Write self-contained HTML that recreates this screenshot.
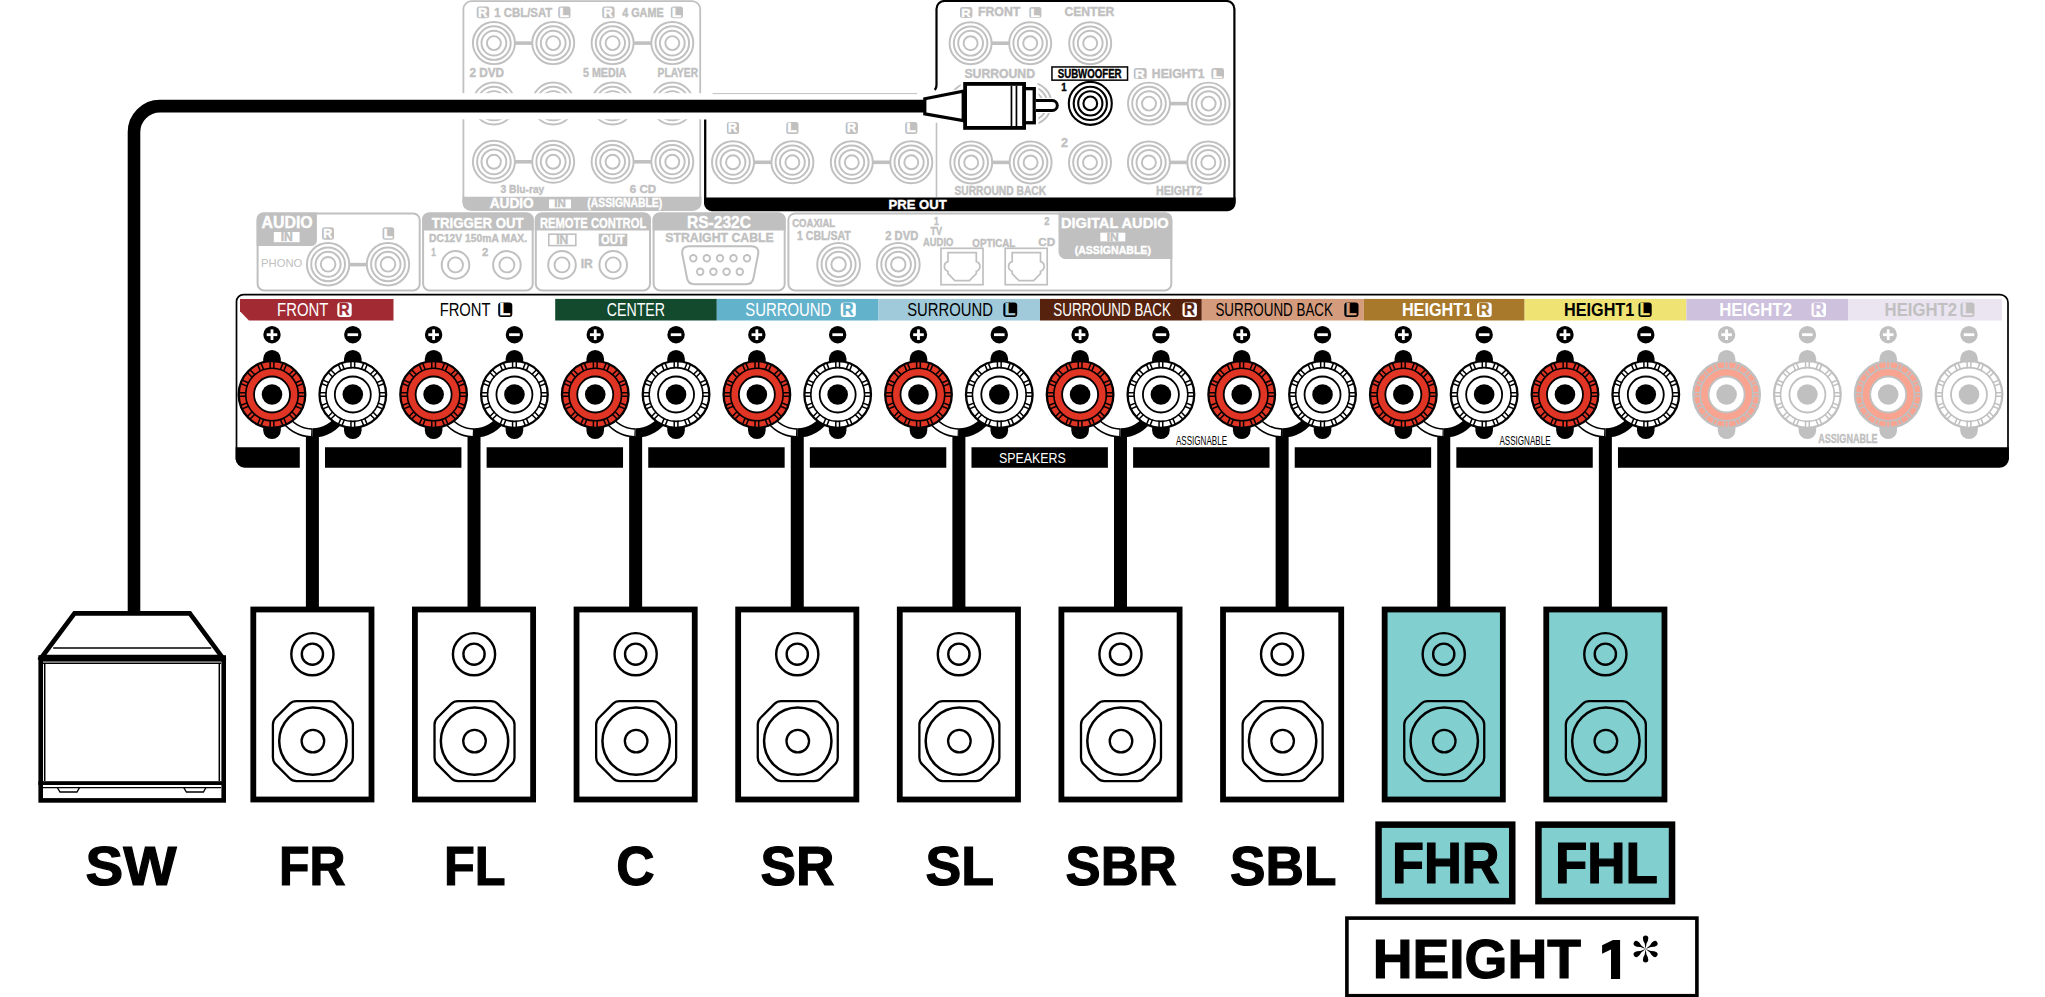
<!DOCTYPE html><html><head><meta charset="utf-8"><style>html,body{margin:0;padding:0;background:#fff;width:2045px;height:997px;overflow:hidden}</style></head><body><svg width="2045" height="997" viewBox="0 0 2045 997" style="display:block">
<g font-family='"Liberation Sans", sans-serif'>
<rect width="2045" height="997" fill="#fff"/>
<rect x="463.4" y="1.2" width="236.8" height="208.6" rx="8" fill="#fff" stroke="#c0c0c0" stroke-width="1.8"/>
<path d="M462.5,196.7 H701.5 V202.3 A8,8 0 0 1 693.5,210.7 H470.5 A8,8 0 0 1 462.5,202.3 Z" fill="#c0c0c0"/>
<text x="489.66" y="208.30" font-size="14.55" font-weight="bold" fill="#fff" stroke="#fff" stroke-width="0.4" textLength="44.12" lengthAdjust="spacingAndGlyphs" >AUDIO</text>
<rect x="549" y="199.4" width="22" height="9" fill="#fff"/>
<text x="554.22" y="207.40" font-size="10.76" font-weight="bold" fill="#c0c0c0" stroke="#c0c0c0" stroke-width="0.4" textLength="11.56" lengthAdjust="spacingAndGlyphs" >IN</text>
<text x="587.28" y="207.30" font-size="12.22" font-weight="bold" fill="#fff" stroke="#fff" stroke-width="0.4" textLength="74.94" lengthAdjust="spacingAndGlyphs" >(ASSIGNABLE)</text>
<circle cx="493.90" cy="43.10" r="21.0" fill="none" stroke="#c0c0c0" stroke-width="1.95"/>
<circle cx="493.90" cy="43.10" r="16.8" fill="none" stroke="#c0c0c0" stroke-width="1.95"/>
<circle cx="493.90" cy="43.10" r="12.4" fill="none" stroke="#c0c0c0" stroke-width="1.95"/>
<circle cx="493.90" cy="43.10" r="7.0" fill="none" stroke="#c0c0c0" stroke-width="1.95"/>
<circle cx="493.90" cy="103.50" r="21.0" fill="none" stroke="#c0c0c0" stroke-width="1.95"/>
<circle cx="493.90" cy="103.50" r="16.8" fill="none" stroke="#c0c0c0" stroke-width="1.95"/>
<circle cx="493.90" cy="103.50" r="12.4" fill="none" stroke="#c0c0c0" stroke-width="1.95"/>
<circle cx="493.90" cy="103.50" r="7.0" fill="none" stroke="#c0c0c0" stroke-width="1.95"/>
<circle cx="493.90" cy="161.80" r="21.0" fill="none" stroke="#c0c0c0" stroke-width="1.95"/>
<circle cx="493.90" cy="161.80" r="16.8" fill="none" stroke="#c0c0c0" stroke-width="1.95"/>
<circle cx="493.90" cy="161.80" r="12.4" fill="none" stroke="#c0c0c0" stroke-width="1.95"/>
<circle cx="493.90" cy="161.80" r="7.0" fill="none" stroke="#c0c0c0" stroke-width="1.95"/>
<circle cx="553.20" cy="43.10" r="21.0" fill="none" stroke="#c0c0c0" stroke-width="1.95"/>
<circle cx="553.20" cy="43.10" r="16.8" fill="none" stroke="#c0c0c0" stroke-width="1.95"/>
<circle cx="553.20" cy="43.10" r="12.4" fill="none" stroke="#c0c0c0" stroke-width="1.95"/>
<circle cx="553.20" cy="43.10" r="7.0" fill="none" stroke="#c0c0c0" stroke-width="1.95"/>
<circle cx="553.20" cy="103.50" r="21.0" fill="none" stroke="#c0c0c0" stroke-width="1.95"/>
<circle cx="553.20" cy="103.50" r="16.8" fill="none" stroke="#c0c0c0" stroke-width="1.95"/>
<circle cx="553.20" cy="103.50" r="12.4" fill="none" stroke="#c0c0c0" stroke-width="1.95"/>
<circle cx="553.20" cy="103.50" r="7.0" fill="none" stroke="#c0c0c0" stroke-width="1.95"/>
<circle cx="553.20" cy="161.80" r="21.0" fill="none" stroke="#c0c0c0" stroke-width="1.95"/>
<circle cx="553.20" cy="161.80" r="16.8" fill="none" stroke="#c0c0c0" stroke-width="1.95"/>
<circle cx="553.20" cy="161.80" r="12.4" fill="none" stroke="#c0c0c0" stroke-width="1.95"/>
<circle cx="553.20" cy="161.80" r="7.0" fill="none" stroke="#c0c0c0" stroke-width="1.95"/>
<circle cx="612.60" cy="43.10" r="21.0" fill="none" stroke="#c0c0c0" stroke-width="1.95"/>
<circle cx="612.60" cy="43.10" r="16.8" fill="none" stroke="#c0c0c0" stroke-width="1.95"/>
<circle cx="612.60" cy="43.10" r="12.4" fill="none" stroke="#c0c0c0" stroke-width="1.95"/>
<circle cx="612.60" cy="43.10" r="7.0" fill="none" stroke="#c0c0c0" stroke-width="1.95"/>
<circle cx="612.60" cy="103.50" r="21.0" fill="none" stroke="#c0c0c0" stroke-width="1.95"/>
<circle cx="612.60" cy="103.50" r="16.8" fill="none" stroke="#c0c0c0" stroke-width="1.95"/>
<circle cx="612.60" cy="103.50" r="12.4" fill="none" stroke="#c0c0c0" stroke-width="1.95"/>
<circle cx="612.60" cy="103.50" r="7.0" fill="none" stroke="#c0c0c0" stroke-width="1.95"/>
<circle cx="612.60" cy="161.80" r="21.0" fill="none" stroke="#c0c0c0" stroke-width="1.95"/>
<circle cx="612.60" cy="161.80" r="16.8" fill="none" stroke="#c0c0c0" stroke-width="1.95"/>
<circle cx="612.60" cy="161.80" r="12.4" fill="none" stroke="#c0c0c0" stroke-width="1.95"/>
<circle cx="612.60" cy="161.80" r="7.0" fill="none" stroke="#c0c0c0" stroke-width="1.95"/>
<circle cx="672.30" cy="43.10" r="21.0" fill="none" stroke="#c0c0c0" stroke-width="1.95"/>
<circle cx="672.30" cy="43.10" r="16.8" fill="none" stroke="#c0c0c0" stroke-width="1.95"/>
<circle cx="672.30" cy="43.10" r="12.4" fill="none" stroke="#c0c0c0" stroke-width="1.95"/>
<circle cx="672.30" cy="43.10" r="7.0" fill="none" stroke="#c0c0c0" stroke-width="1.95"/>
<circle cx="672.30" cy="103.50" r="21.0" fill="none" stroke="#c0c0c0" stroke-width="1.95"/>
<circle cx="672.30" cy="103.50" r="16.8" fill="none" stroke="#c0c0c0" stroke-width="1.95"/>
<circle cx="672.30" cy="103.50" r="12.4" fill="none" stroke="#c0c0c0" stroke-width="1.95"/>
<circle cx="672.30" cy="103.50" r="7.0" fill="none" stroke="#c0c0c0" stroke-width="1.95"/>
<circle cx="672.30" cy="161.80" r="21.0" fill="none" stroke="#c0c0c0" stroke-width="1.95"/>
<circle cx="672.30" cy="161.80" r="16.8" fill="none" stroke="#c0c0c0" stroke-width="1.95"/>
<circle cx="672.30" cy="161.80" r="12.4" fill="none" stroke="#c0c0c0" stroke-width="1.95"/>
<circle cx="672.30" cy="161.80" r="7.0" fill="none" stroke="#c0c0c0" stroke-width="1.95"/>
<rect x="514.90" y="41.30" width="17.30" height="3.6" fill="#c0c0c0"/>
<rect x="633.60" y="41.30" width="17.70" height="3.6" fill="#c0c0c0"/>
<rect x="514.90" y="101.70" width="17.30" height="3.6" fill="#c0c0c0"/>
<rect x="633.60" y="101.70" width="17.70" height="3.6" fill="#c0c0c0"/>
<rect x="514.90" y="160.00" width="17.30" height="3.6" fill="#c0c0c0"/>
<rect x="633.60" y="160.00" width="17.70" height="3.6" fill="#c0c0c0"/>
<rect x="476.70" y="6.50" width="12.50" height="11.80" rx="2.5" fill="#c0c0c0"/>
<text x="477.94" y="16.77" font-size="12.70" font-weight="bold" fill="#fff" stroke="#fff" stroke-width="0.4" textLength="9.42" lengthAdjust="spacingAndGlyphs" >R</text>
<text x="494.29" y="17.20" font-size="12.07" font-weight="bold" fill="#c0c0c0" stroke="#c0c0c0" stroke-width="0.4" textLength="58.03" lengthAdjust="spacingAndGlyphs" >1 CBL/SAT</text>
<rect x="558.20" y="6.50" width="12.30" height="11.80" rx="2.5" fill="#c0c0c0"/>
<text x="559.22" y="16.77" font-size="12.70" font-weight="bold" fill="#fff" stroke="#fff" stroke-width="0.4" textLength="9.68" lengthAdjust="spacingAndGlyphs" >L</text>
<rect x="602.20" y="6.50" width="12.40" height="11.80" rx="2.5" fill="#c0c0c0"/>
<text x="603.43" y="16.77" font-size="12.70" font-weight="bold" fill="#fff" stroke="#fff" stroke-width="0.4" textLength="9.34" lengthAdjust="spacingAndGlyphs" >R</text>
<text x="622.14" y="17.20" font-size="12.07" font-weight="bold" fill="#c0c0c0" stroke="#c0c0c0" stroke-width="0.4" textLength="41.59" lengthAdjust="spacingAndGlyphs" >4 GAME</text>
<rect x="670.80" y="6.50" width="12.20" height="11.80" rx="2.5" fill="#c0c0c0"/>
<text x="671.81" y="16.77" font-size="12.70" font-weight="bold" fill="#fff" stroke="#fff" stroke-width="0.4" textLength="9.60" lengthAdjust="spacingAndGlyphs" >L</text>
<text x="469.39" y="77.20" font-size="11.93" font-weight="bold" fill="#c0c0c0" stroke="#c0c0c0" stroke-width="0.4" textLength="34.72" lengthAdjust="spacingAndGlyphs" >2 DVD</text>
<text x="583.08" y="77.20" font-size="11.93" font-weight="bold" fill="#c0c0c0" stroke="#c0c0c0" stroke-width="0.4" textLength="43.20" lengthAdjust="spacingAndGlyphs" >5 MEDIA</text>
<text x="657.61" y="77.20" font-size="11.93" font-weight="bold" fill="#c0c0c0" stroke="#c0c0c0" stroke-width="0.4" textLength="40.41" lengthAdjust="spacingAndGlyphs" >PLAYER</text>
<text x="500.57" y="193.40" font-size="11.64" font-weight="bold" fill="#c0c0c0" stroke="#c0c0c0" stroke-width="0.4" textLength="43.70" lengthAdjust="spacingAndGlyphs" >3 Blu-ray</text>
<text x="629.76" y="193.40" font-size="11.64" font-weight="bold" fill="#c0c0c0" stroke="#c0c0c0" stroke-width="0.4" textLength="26.44" lengthAdjust="spacingAndGlyphs" >6 CD</text>
<circle cx="733.00" cy="162.30" r="21.0" fill="none" stroke="#c0c0c0" stroke-width="1.95"/>
<circle cx="733.00" cy="162.30" r="16.8" fill="none" stroke="#c0c0c0" stroke-width="1.95"/>
<circle cx="733.00" cy="162.30" r="12.4" fill="none" stroke="#c0c0c0" stroke-width="1.95"/>
<circle cx="733.00" cy="162.30" r="7.0" fill="none" stroke="#c0c0c0" stroke-width="1.95"/>
<rect x="726.90" y="122.00" width="12.20" height="11.90" rx="2.5" fill="#c0c0c0"/>
<text x="728.11" y="132.35" font-size="12.81" font-weight="bold" fill="#fff" stroke="#fff" stroke-width="0.4" textLength="9.19" lengthAdjust="spacingAndGlyphs" >R</text>
<circle cx="792.40" cy="162.30" r="21.0" fill="none" stroke="#c0c0c0" stroke-width="1.95"/>
<circle cx="792.40" cy="162.30" r="16.8" fill="none" stroke="#c0c0c0" stroke-width="1.95"/>
<circle cx="792.40" cy="162.30" r="12.4" fill="none" stroke="#c0c0c0" stroke-width="1.95"/>
<circle cx="792.40" cy="162.30" r="7.0" fill="none" stroke="#c0c0c0" stroke-width="1.95"/>
<rect x="786.30" y="122.00" width="12.20" height="11.90" rx="2.5" fill="#c0c0c0"/>
<text x="787.31" y="132.35" font-size="12.81" font-weight="bold" fill="#fff" stroke="#fff" stroke-width="0.4" textLength="9.60" lengthAdjust="spacingAndGlyphs" >L</text>
<circle cx="851.80" cy="162.30" r="21.0" fill="none" stroke="#c0c0c0" stroke-width="1.95"/>
<circle cx="851.80" cy="162.30" r="16.8" fill="none" stroke="#c0c0c0" stroke-width="1.95"/>
<circle cx="851.80" cy="162.30" r="12.4" fill="none" stroke="#c0c0c0" stroke-width="1.95"/>
<circle cx="851.80" cy="162.30" r="7.0" fill="none" stroke="#c0c0c0" stroke-width="1.95"/>
<rect x="845.70" y="122.00" width="12.20" height="11.90" rx="2.5" fill="#c0c0c0"/>
<text x="846.91" y="132.35" font-size="12.81" font-weight="bold" fill="#fff" stroke="#fff" stroke-width="0.4" textLength="9.19" lengthAdjust="spacingAndGlyphs" >R</text>
<circle cx="911.30" cy="162.30" r="21.0" fill="none" stroke="#c0c0c0" stroke-width="1.95"/>
<circle cx="911.30" cy="162.30" r="16.8" fill="none" stroke="#c0c0c0" stroke-width="1.95"/>
<circle cx="911.30" cy="162.30" r="12.4" fill="none" stroke="#c0c0c0" stroke-width="1.95"/>
<circle cx="911.30" cy="162.30" r="7.0" fill="none" stroke="#c0c0c0" stroke-width="1.95"/>
<rect x="905.20" y="122.00" width="12.20" height="11.90" rx="2.5" fill="#c0c0c0"/>
<text x="906.21" y="132.35" font-size="12.81" font-weight="bold" fill="#fff" stroke="#fff" stroke-width="0.4" textLength="9.60" lengthAdjust="spacingAndGlyphs" >L</text>
<rect x="754.00" y="160.50" width="17.40" height="3.6" fill="#c0c0c0"/>
<rect x="872.80" y="160.50" width="17.50" height="3.6" fill="#c0c0c0"/>
<line x1="936.5" y1="122.7" x2="936.5" y2="197" stroke="#c0c0c0" stroke-width="1.6"/>
<circle cx="970.60" cy="43.20" r="21.0" fill="none" stroke="#c0c0c0" stroke-width="1.95"/>
<circle cx="970.60" cy="43.20" r="16.8" fill="none" stroke="#c0c0c0" stroke-width="1.95"/>
<circle cx="970.60" cy="43.20" r="12.4" fill="none" stroke="#c0c0c0" stroke-width="1.95"/>
<circle cx="970.60" cy="43.20" r="7.0" fill="none" stroke="#c0c0c0" stroke-width="1.95"/>
<circle cx="1030.20" cy="43.20" r="21.0" fill="none" stroke="#c0c0c0" stroke-width="1.95"/>
<circle cx="1030.20" cy="43.20" r="16.8" fill="none" stroke="#c0c0c0" stroke-width="1.95"/>
<circle cx="1030.20" cy="43.20" r="12.4" fill="none" stroke="#c0c0c0" stroke-width="1.95"/>
<circle cx="1030.20" cy="43.20" r="7.0" fill="none" stroke="#c0c0c0" stroke-width="1.95"/>
<circle cx="1090.20" cy="43.20" r="21.0" fill="none" stroke="#c0c0c0" stroke-width="1.95"/>
<circle cx="1090.20" cy="43.20" r="16.8" fill="none" stroke="#c0c0c0" stroke-width="1.95"/>
<circle cx="1090.20" cy="43.20" r="12.4" fill="none" stroke="#c0c0c0" stroke-width="1.95"/>
<circle cx="1090.20" cy="43.20" r="7.0" fill="none" stroke="#c0c0c0" stroke-width="1.95"/>
<rect x="991.60" y="41.40" width="17.60" height="3.6" fill="#c0c0c0"/>
<circle cx="970.60" cy="103.60" r="21.0" fill="none" stroke="#c0c0c0" stroke-width="1.95"/>
<circle cx="970.60" cy="103.60" r="16.8" fill="none" stroke="#c0c0c0" stroke-width="1.95"/>
<circle cx="970.60" cy="103.60" r="12.4" fill="none" stroke="#c0c0c0" stroke-width="1.95"/>
<circle cx="970.60" cy="103.60" r="7.0" fill="none" stroke="#c0c0c0" stroke-width="1.95"/>
<circle cx="1030.40" cy="103.60" r="21.0" fill="none" stroke="#c0c0c0" stroke-width="1.95"/>
<circle cx="1030.40" cy="103.60" r="16.8" fill="none" stroke="#c0c0c0" stroke-width="1.95"/>
<circle cx="1030.40" cy="103.60" r="12.4" fill="none" stroke="#c0c0c0" stroke-width="1.95"/>
<circle cx="1030.40" cy="103.60" r="7.0" fill="none" stroke="#c0c0c0" stroke-width="1.95"/>
<circle cx="1149.00" cy="103.60" r="21.0" fill="none" stroke="#c0c0c0" stroke-width="1.95"/>
<circle cx="1149.00" cy="103.60" r="16.8" fill="none" stroke="#c0c0c0" stroke-width="1.95"/>
<circle cx="1149.00" cy="103.60" r="12.4" fill="none" stroke="#c0c0c0" stroke-width="1.95"/>
<circle cx="1149.00" cy="103.60" r="7.0" fill="none" stroke="#c0c0c0" stroke-width="1.95"/>
<circle cx="1208.60" cy="103.60" r="21.0" fill="none" stroke="#c0c0c0" stroke-width="1.95"/>
<circle cx="1208.60" cy="103.60" r="16.8" fill="none" stroke="#c0c0c0" stroke-width="1.95"/>
<circle cx="1208.60" cy="103.60" r="12.4" fill="none" stroke="#c0c0c0" stroke-width="1.95"/>
<circle cx="1208.60" cy="103.60" r="7.0" fill="none" stroke="#c0c0c0" stroke-width="1.95"/>
<rect x="991.60" y="101.80" width="17.80" height="3.6" fill="#c0c0c0"/>
<rect x="1170.00" y="101.80" width="17.60" height="3.6" fill="#c0c0c0"/>
<circle cx="971.20" cy="162.40" r="21.0" fill="none" stroke="#c0c0c0" stroke-width="1.95"/>
<circle cx="971.20" cy="162.40" r="16.8" fill="none" stroke="#c0c0c0" stroke-width="1.95"/>
<circle cx="971.20" cy="162.40" r="12.4" fill="none" stroke="#c0c0c0" stroke-width="1.95"/>
<circle cx="971.20" cy="162.40" r="7.0" fill="none" stroke="#c0c0c0" stroke-width="1.95"/>
<circle cx="1030.60" cy="162.40" r="21.0" fill="none" stroke="#c0c0c0" stroke-width="1.95"/>
<circle cx="1030.60" cy="162.40" r="16.8" fill="none" stroke="#c0c0c0" stroke-width="1.95"/>
<circle cx="1030.60" cy="162.40" r="12.4" fill="none" stroke="#c0c0c0" stroke-width="1.95"/>
<circle cx="1030.60" cy="162.40" r="7.0" fill="none" stroke="#c0c0c0" stroke-width="1.95"/>
<circle cx="1090.00" cy="162.40" r="21.0" fill="none" stroke="#c0c0c0" stroke-width="1.95"/>
<circle cx="1090.00" cy="162.40" r="16.8" fill="none" stroke="#c0c0c0" stroke-width="1.95"/>
<circle cx="1090.00" cy="162.40" r="12.4" fill="none" stroke="#c0c0c0" stroke-width="1.95"/>
<circle cx="1090.00" cy="162.40" r="7.0" fill="none" stroke="#c0c0c0" stroke-width="1.95"/>
<circle cx="1148.90" cy="162.40" r="21.0" fill="none" stroke="#c0c0c0" stroke-width="1.95"/>
<circle cx="1148.90" cy="162.40" r="16.8" fill="none" stroke="#c0c0c0" stroke-width="1.95"/>
<circle cx="1148.90" cy="162.40" r="12.4" fill="none" stroke="#c0c0c0" stroke-width="1.95"/>
<circle cx="1148.90" cy="162.40" r="7.0" fill="none" stroke="#c0c0c0" stroke-width="1.95"/>
<circle cx="1208.30" cy="162.40" r="21.0" fill="none" stroke="#c0c0c0" stroke-width="1.95"/>
<circle cx="1208.30" cy="162.40" r="16.8" fill="none" stroke="#c0c0c0" stroke-width="1.95"/>
<circle cx="1208.30" cy="162.40" r="12.4" fill="none" stroke="#c0c0c0" stroke-width="1.95"/>
<circle cx="1208.30" cy="162.40" r="7.0" fill="none" stroke="#c0c0c0" stroke-width="1.95"/>
<rect x="992.20" y="160.60" width="17.40" height="3.6" fill="#c0c0c0"/>
<rect x="1169.90" y="160.60" width="17.40" height="3.6" fill="#c0c0c0"/>
<rect x="960.00" y="7.00" width="12.40" height="11.00" rx="2.5" fill="#c0c0c0"/>
<text x="961.23" y="16.57" font-size="11.84" font-weight="bold" fill="#fff" stroke="#fff" stroke-width="0.4" textLength="9.34" lengthAdjust="spacingAndGlyphs" >R</text>
<text x="977.97" y="15.90" font-size="12.07" font-weight="bold" fill="#c0c0c0" stroke="#c0c0c0" stroke-width="0.4" textLength="42.37" lengthAdjust="spacingAndGlyphs" >FRONT</text>
<rect x="1029.30" y="7.00" width="12.10" height="11.00" rx="2.5" fill="#c0c0c0"/>
<text x="1030.31" y="16.57" font-size="11.84" font-weight="bold" fill="#fff" stroke="#fff" stroke-width="0.4" textLength="9.52" lengthAdjust="spacingAndGlyphs" >L</text>
<text x="1064.41" y="15.90" font-size="12.07" font-weight="bold" fill="#c0c0c0" stroke="#c0c0c0" stroke-width="0.4" textLength="49.95" lengthAdjust="spacingAndGlyphs" >CENTER</text>
<text x="964.43" y="77.60" font-size="11.93" font-weight="bold" fill="#c0c0c0" stroke="#c0c0c0" stroke-width="0.4" textLength="70.59" lengthAdjust="spacingAndGlyphs" >SURROUND</text>
<rect x="1133.80" y="68.00" width="12.90" height="11.00" rx="2.5" fill="#c0c0c0"/>
<text x="1135.08" y="77.57" font-size="11.84" font-weight="bold" fill="#fff" stroke="#fff" stroke-width="0.4" textLength="9.72" lengthAdjust="spacingAndGlyphs" >R</text>
<text x="1151.88" y="77.60" font-size="11.93" font-weight="bold" fill="#c0c0c0" stroke="#c0c0c0" stroke-width="0.4" textLength="52.67" lengthAdjust="spacingAndGlyphs" >HEIGHT1</text>
<rect x="1211.40" y="68.00" width="12.60" height="11.00" rx="2.5" fill="#c0c0c0"/>
<text x="1212.45" y="77.57" font-size="11.84" font-weight="bold" fill="#fff" stroke="#fff" stroke-width="0.4" textLength="9.91" lengthAdjust="spacingAndGlyphs" >L</text>
<text x="1061.06" y="147.30" font-size="11.93" font-weight="bold" fill="#c0c0c0" stroke="#c0c0c0" stroke-width="0.4" textLength="6.95" lengthAdjust="spacingAndGlyphs" >2</text>
<text x="954.49" y="194.90" font-size="11.93" font-weight="bold" fill="#c0c0c0" stroke="#c0c0c0" stroke-width="0.4" textLength="91.61" lengthAdjust="spacingAndGlyphs" >SURROUND BACK</text>
<text x="1156.08" y="194.90" font-size="11.93" font-weight="bold" fill="#c0c0c0" stroke="#c0c0c0" stroke-width="0.4" textLength="46.06" lengthAdjust="spacingAndGlyphs" >HEIGHT2</text>
<path d="M934.6,89.9 Q936.5,88.5 936.5,84.5 V9 A8,8 0 0 1 944.5,1 H1226.4 A8,8 0 0 1 1234.4,9 V203" fill="none" stroke="#000" stroke-width="2.2"/>
<path d="M705.2,119.3 V203" fill="none" stroke="#000" stroke-width="2.3"/>
<path d="M704,197.6 H1235.6 V203.2 A8,8 0 0 1 1227.6,211.2 H712 A8,8 0 0 1 704,203.2 Z" fill="#000"/>
<text x="888.62" y="208.90" font-size="12.95" font-weight="bold" fill="#fff" stroke="#fff" stroke-width="0.4" textLength="58.01" lengthAdjust="spacingAndGlyphs" >PRE OUT</text>
<rect x="257.60" y="213.50" width="162.10" height="76.90" rx="6.5" fill="#fff" stroke="#c0c0c0" stroke-width="2"/>
<path d="M256.6,246 V220 A6.5,6.5 0 0 1 263.1,212.5 H316.9 V240.5 A5.5,5.5 0 0 1 311.4,246 Z" fill="#c0c0c0"/>
<text x="261.50" y="227.80" font-size="16.00" font-weight="bold" fill="#fff" stroke="#fff" stroke-width="0.4" textLength="51.17" lengthAdjust="spacingAndGlyphs" >AUDIO</text>
<rect x="273.8" y="232" width="25.8" height="10.2" fill="#fff"/>
<text x="280.68" y="241.20" font-size="11.93" font-weight="bold" fill="#c0c0c0" stroke="#c0c0c0" stroke-width="0.4" textLength="12.14" lengthAdjust="spacingAndGlyphs" >IN</text>
<rect x="322.00" y="227.20" width="12.00" height="12.50" rx="2.5" fill="#c0c0c0"/>
<text x="323.19" y="238.07" font-size="13.45" font-weight="bold" fill="#fff" stroke="#fff" stroke-width="0.4" textLength="9.04" lengthAdjust="spacingAndGlyphs" >R</text>
<rect x="382.50" y="227.20" width="11.70" height="12.50" rx="2.5" fill="#c0c0c0"/>
<text x="383.47" y="238.07" font-size="13.45" font-weight="bold" fill="#fff" stroke="#fff" stroke-width="0.4" textLength="9.20" lengthAdjust="spacingAndGlyphs" >L</text>
<text x="260.97" y="266.80" font-size="11.35" font-weight="normal" fill="#c0c0c0" textLength="41.36" lengthAdjust="spacingAndGlyphs" >PHONO</text>
<circle cx="328.10" cy="264.30" r="21.2" fill="none" stroke="#c0c0c0" stroke-width="1.95"/>
<circle cx="328.10" cy="264.30" r="16.9" fill="none" stroke="#c0c0c0" stroke-width="1.95"/>
<circle cx="328.10" cy="264.30" r="12.5" fill="none" stroke="#c0c0c0" stroke-width="1.95"/>
<circle cx="328.10" cy="264.30" r="7.3" fill="none" stroke="#c0c0c0" stroke-width="1.95"/>
<circle cx="388.00" cy="264.30" r="21.2" fill="none" stroke="#c0c0c0" stroke-width="1.95"/>
<circle cx="388.00" cy="264.30" r="16.9" fill="none" stroke="#c0c0c0" stroke-width="1.95"/>
<circle cx="388.00" cy="264.30" r="12.5" fill="none" stroke="#c0c0c0" stroke-width="1.95"/>
<circle cx="388.00" cy="264.30" r="7.3" fill="none" stroke="#c0c0c0" stroke-width="1.95"/>
<rect x="349.10" y="262.80" width="17.90" height="3.6" fill="#c0c0c0"/>
<rect x="423.10" y="213.50" width="109.60" height="76.90" rx="6.5" fill="#fff" stroke="#c0c0c0" stroke-width="2"/>
<path d="M422.1,230.5 V219.0 A6.5,6.5 0 0 1 428.6,212.5 H527.2 A6.5,6.5 0 0 1 533.7,219.0 V230.5 Z" fill="#c0c0c0"/>
<text x="431.87" y="227.80" font-size="15.56" font-weight="bold" fill="#fff" stroke="#fff" stroke-width="0.4" textLength="91.69" lengthAdjust="spacingAndGlyphs" >TRIGGER OUT</text>
<text x="429.00" y="242.30" font-size="11.35" font-weight="bold" fill="#c0c0c0" stroke="#c0c0c0" stroke-width="0.4" textLength="98.09" lengthAdjust="spacingAndGlyphs" >DC12V 150mA MAX.</text>
<text x="431.19" y="255.50" font-size="11.35" font-weight="bold" fill="#c0c0c0" stroke="#c0c0c0" stroke-width="0.4" textLength="4.55" lengthAdjust="spacingAndGlyphs" >1</text>
<text x="482.10" y="255.50" font-size="11.35" font-weight="bold" fill="#c0c0c0" stroke="#c0c0c0" stroke-width="0.4" textLength="6.37" lengthAdjust="spacingAndGlyphs" >2</text>
<circle cx="455.5" cy="264.9" r="13.8" fill="none" stroke="#c0c0c0" stroke-width="2"/>
<circle cx="455.5" cy="264.9" r="7.5" fill="none" stroke="#c0c0c0" stroke-width="1.9"/>
<circle cx="506.9" cy="264.9" r="13.8" fill="none" stroke="#c0c0c0" stroke-width="2"/>
<circle cx="506.9" cy="264.9" r="7.5" fill="none" stroke="#c0c0c0" stroke-width="1.9"/>
<rect x="535.80" y="213.50" width="114.20" height="76.90" rx="6.5" fill="#fff" stroke="#c0c0c0" stroke-width="2"/>
<path d="M534.8,230.5 V219.0 A6.5,6.5 0 0 1 541.3,212.5 H644.5 A6.5,6.5 0 0 1 651.0,219.0 V230.5 Z" fill="#c0c0c0"/>
<text x="539.94" y="227.80" font-size="15.56" font-weight="bold" fill="#fff" stroke="#fff" stroke-width="0.4" textLength="106.29" lengthAdjust="spacingAndGlyphs" >REMOTE CONTROL</text>
<rect x="548.8" y="234.2" width="27" height="11.4" fill="#fff" stroke="#c0c0c0" stroke-width="1.6"/>
<text x="556.18" y="243.80" font-size="12.51" font-weight="bold" fill="#c0c0c0" stroke="#c0c0c0" stroke-width="0.4" textLength="12.14" lengthAdjust="spacingAndGlyphs" >IN</text>
<rect x="598.7" y="233.6" width="28.6" height="12.6" fill="#c0c0c0"/>
<text x="601.05" y="243.80" font-size="12.51" font-weight="bold" fill="#fff" stroke="#fff" stroke-width="0.4" textLength="23.57" lengthAdjust="spacingAndGlyphs" >OUT</text>
<circle cx="562.0" cy="264.9" r="13.8" fill="none" stroke="#c0c0c0" stroke-width="2"/>
<circle cx="562.0" cy="264.9" r="7.5" fill="none" stroke="#c0c0c0" stroke-width="1.9"/>
<circle cx="613.2" cy="264.9" r="13.8" fill="none" stroke="#c0c0c0" stroke-width="2"/>
<circle cx="613.2" cy="264.9" r="7.5" fill="none" stroke="#c0c0c0" stroke-width="1.9"/>
<text x="580.68" y="268.00" font-size="13.09" font-weight="bold" fill="#c0c0c0" stroke="#c0c0c0" stroke-width="0.4" textLength="12.09" lengthAdjust="spacingAndGlyphs" >IR</text>
<rect x="653.60" y="213.50" width="131.10" height="76.90" rx="6.5" fill="#fff" stroke="#c0c0c0" stroke-width="2"/>
<path d="M652.6,230.6 V219.0 A6.5,6.5 0 0 1 659.1,212.5 H779.2 A6.5,6.5 0 0 1 785.7,219.0 V230.6 Z" fill="#c0c0c0"/>
<text x="686.95" y="227.50" font-size="16.58" font-weight="bold" fill="#fff" stroke="#fff" stroke-width="0.4" textLength="63.98" lengthAdjust="spacingAndGlyphs" >RS-232C</text>
<text x="665.23" y="241.60" font-size="13.09" font-weight="bold" fill="#c0c0c0" stroke="#c0c0c0" stroke-width="0.4" textLength="108.54" lengthAdjust="spacingAndGlyphs" >STRAIGHT CABLE</text>
<path d="M689,246.2 H751.5 Q758.8,246.2 758.3,253.5 L753.5,278 Q752.5,284.2 746,284.2 H694.5 Q688,284.2 687,278 L682.2,253.5 Q681.7,246.2 689,246.2 Z" fill="none" stroke="#c0c0c0" stroke-width="2"/>
<circle cx="693.3" cy="258.3" r="3.3" fill="none" stroke="#c0c0c0" stroke-width="1.8"/>
<circle cx="706.8" cy="258.3" r="3.3" fill="none" stroke="#c0c0c0" stroke-width="1.8"/>
<circle cx="720.0" cy="258.3" r="3.3" fill="none" stroke="#c0c0c0" stroke-width="1.8"/>
<circle cx="733.5" cy="258.3" r="3.3" fill="none" stroke="#c0c0c0" stroke-width="1.8"/>
<circle cx="747.0" cy="258.3" r="3.3" fill="none" stroke="#c0c0c0" stroke-width="1.8"/>
<circle cx="700.2" cy="271.8" r="3.3" fill="none" stroke="#c0c0c0" stroke-width="1.8"/>
<circle cx="713.4" cy="271.8" r="3.3" fill="none" stroke="#c0c0c0" stroke-width="1.8"/>
<circle cx="726.6" cy="271.8" r="3.3" fill="none" stroke="#c0c0c0" stroke-width="1.8"/>
<circle cx="739.8" cy="271.8" r="3.3" fill="none" stroke="#c0c0c0" stroke-width="1.8"/>
<rect x="788.40" y="213.50" width="382.90" height="76.90" rx="6.5" fill="#fff" stroke="#c0c0c0" stroke-width="2"/>
<path d="M1058.5,212.5 H1165.3 A6.5,6.5 0 0 1 1172.3,219 V259.1 H1066 A7.5,7.5 0 0 1 1058.5,251.6 Z" fill="#c0c0c0"/>
<text x="1061.01" y="227.60" font-size="15.42" font-weight="bold" fill="#fff" stroke="#fff" stroke-width="0.4" textLength="107.61" lengthAdjust="spacingAndGlyphs" >DIGITAL AUDIO</text>
<rect x="1100.3" y="232.7" width="25" height="8.7" fill="#fff"/>
<text x="1106.68" y="240.60" font-size="10.18" font-weight="bold" fill="#c0c0c0" stroke="#c0c0c0" stroke-width="0.4" textLength="12.14" lengthAdjust="spacingAndGlyphs" >IN</text>
<text x="1074.67" y="253.60" font-size="11.35" font-weight="bold" fill="#fff" stroke="#fff" stroke-width="0.4" textLength="76.25" lengthAdjust="spacingAndGlyphs" >(ASSIGNABLE)</text>
<text x="792.22" y="226.70" font-size="10.76" font-weight="bold" fill="#c0c0c0" stroke="#c0c0c0" stroke-width="0.4" textLength="42.97" lengthAdjust="spacingAndGlyphs" >COAXIAL</text>
<text x="796.94" y="240.00" font-size="12.07" font-weight="bold" fill="#c0c0c0" stroke="#c0c0c0" stroke-width="0.4" textLength="53.87" lengthAdjust="spacingAndGlyphs" >1 CBL/SAT</text>
<text x="885.21" y="240.00" font-size="12.07" font-weight="bold" fill="#c0c0c0" stroke="#c0c0c0" stroke-width="0.4" textLength="33.07" lengthAdjust="spacingAndGlyphs" >2 DVD</text>
<circle cx="838.60" cy="264.40" r="21.4" fill="none" stroke="#c0c0c0" stroke-width="1.95"/>
<circle cx="838.60" cy="264.40" r="17.0" fill="none" stroke="#c0c0c0" stroke-width="1.95"/>
<circle cx="838.60" cy="264.40" r="12.6" fill="none" stroke="#c0c0c0" stroke-width="1.95"/>
<circle cx="838.60" cy="264.40" r="7.2" fill="none" stroke="#c0c0c0" stroke-width="1.95"/>
<circle cx="898.30" cy="264.40" r="21.4" fill="none" stroke="#c0c0c0" stroke-width="1.95"/>
<circle cx="898.30" cy="264.40" r="17.0" fill="none" stroke="#c0c0c0" stroke-width="1.95"/>
<circle cx="898.30" cy="264.40" r="12.6" fill="none" stroke="#c0c0c0" stroke-width="1.95"/>
<circle cx="898.30" cy="264.40" r="7.2" fill="none" stroke="#c0c0c0" stroke-width="1.95"/>
<text x="933.96" y="225.30" font-size="11.35" font-weight="bold" fill="#c0c0c0" stroke="#c0c0c0" stroke-width="0.4" textLength="4.78" lengthAdjust="spacingAndGlyphs" >1</text>
<text x="930.41" y="234.80" font-size="11.05" font-weight="bold" fill="#c0c0c0" stroke="#c0c0c0" stroke-width="0.4" textLength="11.66" lengthAdjust="spacingAndGlyphs" >TV</text>
<text x="923.07" y="246.00" font-size="11.35" font-weight="bold" fill="#c0c0c0" stroke="#c0c0c0" stroke-width="0.4" textLength="30.23" lengthAdjust="spacingAndGlyphs" >AUDIO</text>
<text x="972.31" y="246.50" font-size="11.35" font-weight="bold" fill="#c0c0c0" stroke="#c0c0c0" stroke-width="0.4" textLength="43.00" lengthAdjust="spacingAndGlyphs" >OPTICAL</text>
<text x="1044.17" y="225.30" font-size="11.35" font-weight="bold" fill="#c0c0c0" stroke="#c0c0c0" stroke-width="0.4" textLength="5.21" lengthAdjust="spacingAndGlyphs" >2</text>
<text x="1038.23" y="246.00" font-size="11.35" font-weight="bold" fill="#c0c0c0" stroke="#c0c0c0" stroke-width="0.4" textLength="16.86" lengthAdjust="spacingAndGlyphs" >CD</text>
<rect x="941.00" y="248.3" width="42.0" height="36.4" fill="none" stroke="#c0c0c0" stroke-width="1.7"/>
<path d="M948.00,252.6 H976.30 V261.6 A5,5 0 0 1 976.30,271.2 V273.7 L969.40,280.7 H954.80 L948.00,273.7 V271.2 A5,5 0 0 1 948.00,261.6 Z" fill="none" stroke="#c0c0c0" stroke-width="1.7" stroke-linejoin="miter"/>
<rect x="1005.20" y="248.3" width="42.0" height="36.4" fill="none" stroke="#c0c0c0" stroke-width="1.7"/>
<path d="M1012.20,252.6 H1040.50 V261.6 A5,5 0 0 1 1040.50,271.2 V273.7 L1033.60,280.7 H1019.00 L1012.20,273.7 V271.2 A5,5 0 0 1 1012.20,261.6 Z" fill="none" stroke="#c0c0c0" stroke-width="1.7" stroke-linejoin="miter"/>
<rect x="452" y="93.2" width="474" height="26.1" fill="#fff"/>
<line x1="712.6" y1="93.6" x2="917.1" y2="93.6" stroke="#c0c0c0" stroke-width="1"/>
<path d="M925,98 L963.2,90.9 V83.9 H1035 V88 H1036 V100.5 H1052.3 A5,5 0 0 1 1052.3,110.5 H1036 V124 H1026 V127.9 H963.2 V120.9 L925,114.6 Z" fill="#fff" stroke="#fff" stroke-width="5" stroke-linejoin="round"/>
<path d="M134,612 V132 A26,26 0 0 1 160,106.1 H926" fill="none" stroke="#000" stroke-width="12.6"/>
<path d="M924.8,98.8 L963.2,91.3 V120.5 L924.8,113.8 Z" fill="#fff" stroke="#000" stroke-width="3.2" stroke-linejoin="miter"/>
<rect x="965.1" y="83.9" width="59" height="44" fill="#fff" stroke="#000" stroke-width="3.8"/>
<rect x="1010.6" y="85.8" width="1.7" height="42" fill="#000"/>
<rect x="1015.6" y="85.8" width="1.7" height="42" fill="#000"/>
<rect x="1024.3" y="88.65" width="9.95" height="34.1" fill="#fff" stroke="#000" stroke-width="3.3"/>
<path d="M1035.9,100.5 H1052.3 A5,5 0 0 1 1052.3,110.5 H1035.9" fill="#fff" stroke="#000" stroke-width="3"/>
<circle cx="1090.3" cy="103.4" r="21.5" fill="none" stroke="#000" stroke-width="2.1"/>
<circle cx="1090.3" cy="103.4" r="16.6" fill="none" stroke="#000" stroke-width="2.1"/>
<circle cx="1090.3" cy="103.4" r="12.1" fill="none" stroke="#000" stroke-width="2.1"/>
<circle cx="1090.3" cy="103.4" r="6.85" fill="none" stroke="#000" stroke-width="2.1"/>
<rect x="1051.95" y="66.95" width="75.6" height="13.2" fill="#fff" stroke="#000" stroke-width="1.5"/>
<text x="1057.71" y="77.60" font-size="12.36" font-weight="bold" fill="#000" stroke="#000" stroke-width="0.4" textLength="63.89" lengthAdjust="spacingAndGlyphs" >SUBWOOFER</text>
<text x="1061.20" y="90.90" font-size="11.20" font-weight="bold" fill="#000" stroke="#000" stroke-width="0.4" textLength="5.38" lengthAdjust="spacingAndGlyphs" >1</text>
<path d="M236.5,459.7 V301.6 A7,7 0 0 1 243.5,294.6 H2000.0 A8,8 0 0 1 2008.0,302.6 V459.7" fill="#fff" stroke="#000" stroke-width="1.7"/>
<path d="M235.65,447.2 H2008.85 V458.7 A9,9 0 0 1 1999.85,467.7 H244.65 A9,9 0 0 1 235.65,458.7 Z" fill="#000"/>
<rect x="299.80" y="446" width="25.2" height="23" fill="#fff"/>
<rect x="461.42" y="446" width="25.2" height="23" fill="#fff"/>
<rect x="623.04" y="446" width="25.2" height="23" fill="#fff"/>
<rect x="784.66" y="446" width="25.2" height="23" fill="#fff"/>
<rect x="946.28" y="446" width="25.2" height="23" fill="#fff"/>
<rect x="1107.90" y="446" width="25.2" height="23" fill="#fff"/>
<rect x="1269.52" y="446" width="25.2" height="23" fill="#fff"/>
<rect x="1431.14" y="446" width="25.2" height="23" fill="#fff"/>
<rect x="1592.76" y="446" width="25.2" height="23" fill="#fff"/>
<path d="M240.0,298.9 H393.7 V320.5 H248.9 L240.0,311.3 Z" fill="#a12a33"/>
<rect x="393.7" y="298.9" width="161.50" height="21.60" fill="#ffffff"/>
<rect x="555.2" y="298.9" width="161.60" height="21.60" fill="#134a2e"/>
<rect x="716.8" y="298.9" width="161.70" height="21.60" fill="#62b2cc"/>
<rect x="878.5" y="298.9" width="161.50" height="21.60" fill="#a0c9da"/>
<rect x="1040.0" y="298.9" width="161.80" height="21.60" fill="#56220e"/>
<rect x="1201.8" y="298.9" width="162.00" height="21.60" fill="#d59b7d"/>
<rect x="1363.8" y="298.9" width="160.80" height="21.60" fill="#a8792b"/>
<rect x="1524.6" y="298.9" width="161.80" height="21.60" fill="#efe373"/>
<rect x="1686.4" y="298.9" width="161.70" height="21.60" fill="#cdc1dd"/>
<rect x="1848.1" y="298.9" width="153.80" height="21.60" fill="#ebe4f1"/>
<text x="277.07" y="316.20" font-size="18.76" font-weight="normal" fill="#fff" textLength="51.29" lengthAdjust="spacingAndGlyphs" >FRONT</text>
<rect x="337.30" y="302.50" width="14.40" height="14.50" rx="3" fill="#fff"/>
<text x="338.73" y="315.12" font-size="15.61" font-weight="bold" fill="#a12a33" stroke="#a12a33" stroke-width="0.4" textLength="10.85" lengthAdjust="spacingAndGlyphs" >R</text>
<text x="439.68" y="316.20" font-size="18.76" font-weight="normal" fill="#000" textLength="50.87" lengthAdjust="spacingAndGlyphs" >FRONT</text>
<rect x="498.20" y="302.50" width="14.10" height="14.50" rx="3" fill="#000"/>
<text x="499.37" y="315.12" font-size="15.61" font-weight="bold" fill="#fff" stroke="#fff" stroke-width="0.4" textLength="11.09" lengthAdjust="spacingAndGlyphs" >L</text>
<text x="606.79" y="316.20" font-size="18.76" font-weight="normal" fill="#fff" textLength="58.16" lengthAdjust="spacingAndGlyphs" >CENTER</text>
<text x="745.33" y="316.20" font-size="18.76" font-weight="normal" fill="#fff" textLength="85.98" lengthAdjust="spacingAndGlyphs" >SURROUND</text>
<rect x="840.80" y="302.50" width="15.00" height="14.50" rx="3" fill="#fff"/>
<text x="842.29" y="315.12" font-size="15.61" font-weight="bold" fill="#62b2cc" stroke="#62b2cc" stroke-width="0.4" textLength="11.30" lengthAdjust="spacingAndGlyphs" >R</text>
<text x="907.23" y="316.20" font-size="18.76" font-weight="normal" fill="#000" textLength="85.68" lengthAdjust="spacingAndGlyphs" >SURROUND</text>
<rect x="1003.30" y="302.50" width="13.90" height="14.50" rx="3" fill="#000"/>
<text x="1004.45" y="315.12" font-size="15.61" font-weight="bold" fill="#a0c9da" stroke="#a0c9da" stroke-width="0.4" textLength="10.93" lengthAdjust="spacingAndGlyphs" >L</text>
<text x="1053.30" y="316.20" font-size="18.76" font-weight="normal" fill="#fff" textLength="117.56" lengthAdjust="spacingAndGlyphs" >SURROUND BACK</text>
<rect x="1182.50" y="302.50" width="14.40" height="14.50" rx="3" fill="#fff"/>
<text x="1183.93" y="315.12" font-size="15.61" font-weight="bold" fill="#56220e" stroke="#56220e" stroke-width="0.4" textLength="10.85" lengthAdjust="spacingAndGlyphs" >R</text>
<text x="1215.40" y="316.20" font-size="18.76" font-weight="normal" fill="#000" textLength="117.56" lengthAdjust="spacingAndGlyphs" >SURROUND BACK</text>
<rect x="1344.30" y="302.50" width="14.20" height="14.50" rx="3" fill="#000"/>
<text x="1345.48" y="315.12" font-size="15.61" font-weight="bold" fill="#d59b7d" stroke="#d59b7d" stroke-width="0.4" textLength="11.17" lengthAdjust="spacingAndGlyphs" >L</text>
<text x="1401.90" y="316.20" font-size="18.04" font-weight="bold" fill="#fff" textLength="70.37" lengthAdjust="spacingAndGlyphs" >HEIGHT1</text>
<rect x="1477.00" y="302.50" width="14.70" height="14.50" rx="3" fill="#fff"/>
<text x="1478.46" y="315.12" font-size="15.61" font-weight="bold" fill="#a8792b" stroke="#a8792b" stroke-width="0.4" textLength="11.08" lengthAdjust="spacingAndGlyphs" >R</text>
<text x="1564.01" y="316.20" font-size="18.04" font-weight="bold" fill="#000" textLength="70.27" lengthAdjust="spacingAndGlyphs" >HEIGHT1</text>
<rect x="1638.50" y="302.50" width="13.20" height="14.50" rx="3" fill="#000"/>
<text x="1639.60" y="315.12" font-size="15.61" font-weight="bold" fill="#efe373" stroke="#efe373" stroke-width="0.4" textLength="10.38" lengthAdjust="spacingAndGlyphs" >L</text>
<text x="1719.17" y="316.20" font-size="18.04" font-weight="bold" fill="#fff" textLength="72.83" lengthAdjust="spacingAndGlyphs" >HEIGHT2</text>
<rect x="1811.50" y="302.50" width="14.50" height="14.50" rx="3" fill="#fff"/>
<text x="1812.94" y="315.12" font-size="15.61" font-weight="bold" fill="#cdc1dd" stroke="#cdc1dd" stroke-width="0.4" textLength="10.93" lengthAdjust="spacingAndGlyphs" >R</text>
<text x="1884.57" y="316.20" font-size="18.04" font-weight="bold" fill="#c0c0c0" textLength="72.42" lengthAdjust="spacingAndGlyphs" >HEIGHT2</text>
<rect x="1960.50" y="302.50" width="14.00" height="14.50" rx="3" fill="#c0c0c0"/>
<text x="1961.66" y="315.12" font-size="15.61" font-weight="bold" fill="#ebe4f1" stroke="#ebe4f1" stroke-width="0.4" textLength="11.01" lengthAdjust="spacingAndGlyphs" >L</text>
<path d="M283.05,415.95 A33.9,33.9 0 0 0 312.40,432.90" fill="none" stroke="#000" stroke-width="9.4"/>
<path d="M283.05,415.95 A33.9,33.9 0 0 0 311.20,432.86" fill="none" stroke="#fff" stroke-width="6.4"/>
<path d="M312.40,432.90 A33.9,33.9 0 0 0 341.76,415.95" fill="none" stroke="#000" stroke-width="9.4"/>
<path d="M444.67,415.95 A33.9,33.9 0 0 0 474.03,432.90" fill="none" stroke="#000" stroke-width="9.4"/>
<path d="M444.67,415.95 A33.9,33.9 0 0 0 472.83,432.86" fill="none" stroke="#fff" stroke-width="6.4"/>
<path d="M474.03,432.90 A33.9,33.9 0 0 0 503.38,415.95" fill="none" stroke="#000" stroke-width="9.4"/>
<path d="M606.29,415.95 A33.9,33.9 0 0 0 635.64,432.90" fill="none" stroke="#000" stroke-width="9.4"/>
<path d="M606.29,415.95 A33.9,33.9 0 0 0 634.44,432.86" fill="none" stroke="#fff" stroke-width="6.4"/>
<path d="M635.64,432.90 A33.9,33.9 0 0 0 665.00,415.95" fill="none" stroke="#000" stroke-width="9.4"/>
<path d="M767.91,415.95 A33.9,33.9 0 0 0 797.27,432.90" fill="none" stroke="#000" stroke-width="9.4"/>
<path d="M767.91,415.95 A33.9,33.9 0 0 0 796.07,432.86" fill="none" stroke="#fff" stroke-width="6.4"/>
<path d="M797.27,432.90 A33.9,33.9 0 0 0 826.62,415.95" fill="none" stroke="#000" stroke-width="9.4"/>
<path d="M929.53,415.95 A33.9,33.9 0 0 0 958.88,432.90" fill="none" stroke="#000" stroke-width="9.4"/>
<path d="M929.53,415.95 A33.9,33.9 0 0 0 957.68,432.86" fill="none" stroke="#fff" stroke-width="6.4"/>
<path d="M958.88,432.90 A33.9,33.9 0 0 0 988.24,415.95" fill="none" stroke="#000" stroke-width="9.4"/>
<path d="M1091.15,415.95 A33.9,33.9 0 0 0 1120.51,432.90" fill="none" stroke="#000" stroke-width="9.4"/>
<path d="M1091.15,415.95 A33.9,33.9 0 0 0 1119.31,432.86" fill="none" stroke="#fff" stroke-width="6.4"/>
<path d="M1120.51,432.90 A33.9,33.9 0 0 0 1149.86,415.95" fill="none" stroke="#000" stroke-width="9.4"/>
<path d="M1252.77,415.95 A33.9,33.9 0 0 0 1282.12,432.90" fill="none" stroke="#000" stroke-width="9.4"/>
<path d="M1252.77,415.95 A33.9,33.9 0 0 0 1280.92,432.86" fill="none" stroke="#fff" stroke-width="6.4"/>
<path d="M1282.12,432.90 A33.9,33.9 0 0 0 1311.48,415.95" fill="none" stroke="#000" stroke-width="9.4"/>
<path d="M1414.39,415.95 A33.9,33.9 0 0 0 1443.75,432.90" fill="none" stroke="#000" stroke-width="9.4"/>
<path d="M1414.39,415.95 A33.9,33.9 0 0 0 1442.55,432.86" fill="none" stroke="#fff" stroke-width="6.4"/>
<path d="M1443.75,432.90 A33.9,33.9 0 0 0 1473.10,415.95" fill="none" stroke="#000" stroke-width="9.4"/>
<path d="M1576.01,415.95 A33.9,33.9 0 0 0 1605.37,432.90" fill="none" stroke="#000" stroke-width="9.4"/>
<path d="M1576.01,415.95 A33.9,33.9 0 0 0 1604.16,432.86" fill="none" stroke="#fff" stroke-width="6.4"/>
<path d="M1605.37,432.90 A33.9,33.9 0 0 0 1634.72,415.95" fill="none" stroke="#000" stroke-width="9.4"/>
<circle cx="272.00" cy="334.7" r="8.7" fill="#000"/>
<rect x="266.70" y="333.3" width="10.6" height="2.8" fill="#fff"/>
<rect x="270.60" y="329.4" width="2.8" height="10.6" fill="#fff"/>
<rect x="263.20" y="350.0" width="17.6" height="89.0" rx="8.8" fill="#000"/>
<circle cx="272.00" cy="394.5" r="33.3" fill="#e03424" stroke="#000" stroke-width="2.3"/>
<path d="M270.15,368.20L270.15,361.30M273.85,368.20L273.85,361.30M280.36,369.49L283.00,363.12M283.77,370.91L286.41,364.54M289.29,374.59L294.17,369.72M291.91,377.21L296.78,372.33M295.59,382.73L301.96,380.09M297.01,386.14L303.38,383.50M298.30,392.65L305.20,392.65M298.30,396.35L305.20,396.35M297.01,402.86L303.38,405.50M295.59,406.27L301.96,408.91M291.91,411.79L296.78,416.67M289.29,414.41L294.17,419.28M283.77,418.09L286.41,424.46M280.36,419.51L283.00,425.88M273.85,420.80L273.85,427.70M270.15,420.80L270.15,427.70M263.64,419.51L261.00,425.88M260.23,418.09L257.59,424.46M254.71,414.41L249.83,419.28M252.09,411.79L247.22,416.67M248.41,406.27L242.04,408.91M246.99,402.86L240.62,405.50M245.70,396.35L238.80,396.35M245.70,392.65L238.80,392.65M246.99,386.14L240.62,383.50M248.41,382.73L242.04,380.09M252.09,377.21L247.22,372.33M254.71,374.59L249.83,369.72M260.23,370.91L257.59,364.54M263.64,369.49L261.00,363.12" stroke="#000" stroke-width="1.5" fill="none"/>
<circle cx="272.00" cy="394.5" r="26.3" fill="none" stroke="#000" stroke-width="1.6"/>
<circle cx="272.00" cy="394.5" r="18.0" fill="#fff" stroke="#000" stroke-width="1.8"/>
<circle cx="272.00" cy="394.5" r="10.3" fill="#000"/>
<circle cx="352.81" cy="334.7" r="8.7" fill="#000"/>
<rect x="347.51" y="333.3" width="10.6" height="2.8" fill="#fff"/>
<rect x="344.01" y="350.0" width="17.6" height="89.0" rx="8.8" fill="#000"/>
<circle cx="352.81" cy="394.5" r="33.3" fill="#fff" stroke="#000" stroke-width="2.3"/>
<path d="M350.96,368.20L350.96,361.30M354.66,368.20L354.66,361.30M361.17,369.49L363.81,363.12M364.58,370.91L367.22,364.54M370.10,374.59L374.98,369.72M372.72,377.21L377.59,372.33M376.40,382.73L382.77,380.09M377.82,386.14L384.19,383.50M379.11,392.65L386.01,392.65M379.11,396.35L386.01,396.35M377.82,402.86L384.19,405.50M376.40,406.27L382.77,408.91M372.72,411.79L377.59,416.67M370.10,414.41L374.98,419.28M364.58,418.09L367.22,424.46M361.17,419.51L363.81,425.88M354.66,420.80L354.66,427.70M350.96,420.80L350.96,427.70M344.45,419.51L341.81,425.88M341.04,418.09L338.40,424.46M335.52,414.41L330.64,419.28M332.90,411.79L328.03,416.67M329.22,406.27L322.85,408.91M327.80,402.86L321.43,405.50M326.51,396.35L319.61,396.35M326.51,392.65L319.61,392.65M327.80,386.14L321.43,383.50M329.22,382.73L322.85,380.09M332.90,377.21L328.03,372.33M335.52,374.59L330.64,369.72M341.04,370.91L338.40,364.54M344.45,369.49L341.81,363.12" stroke="#000" stroke-width="1.5" fill="none"/>
<circle cx="352.81" cy="394.5" r="26.9" fill="none" stroke="#000" stroke-width="1.6"/>
<circle cx="352.81" cy="394.5" r="18.0" fill="#fff" stroke="#000" stroke-width="1.8"/>
<circle cx="352.81" cy="394.5" r="10.3" fill="#000"/>
<circle cx="433.62" cy="334.7" r="8.7" fill="#000"/>
<rect x="428.32" y="333.3" width="10.6" height="2.8" fill="#fff"/>
<rect x="432.22" y="329.4" width="2.8" height="10.6" fill="#fff"/>
<rect x="424.82" y="350.0" width="17.6" height="89.0" rx="8.8" fill="#000"/>
<circle cx="433.62" cy="394.5" r="33.3" fill="#e03424" stroke="#000" stroke-width="2.3"/>
<path d="M431.77,368.20L431.77,361.30M435.47,368.20L435.47,361.30M441.98,369.49L444.62,363.12M445.39,370.91L448.03,364.54M450.91,374.59L455.79,369.72M453.53,377.21L458.40,372.33M457.21,382.73L463.58,380.09M458.63,386.14L465.00,383.50M459.92,392.65L466.82,392.65M459.92,396.35L466.82,396.35M458.63,402.86L465.00,405.50M457.21,406.27L463.58,408.91M453.53,411.79L458.40,416.67M450.91,414.41L455.79,419.28M445.39,418.09L448.03,424.46M441.98,419.51L444.62,425.88M435.47,420.80L435.47,427.70M431.77,420.80L431.77,427.70M425.26,419.51L422.62,425.88M421.85,418.09L419.21,424.46M416.33,414.41L411.45,419.28M413.71,411.79L408.84,416.67M410.03,406.27L403.66,408.91M408.61,402.86L402.24,405.50M407.32,396.35L400.42,396.35M407.32,392.65L400.42,392.65M408.61,386.14L402.24,383.50M410.03,382.73L403.66,380.09M413.71,377.21L408.84,372.33M416.33,374.59L411.45,369.72M421.85,370.91L419.21,364.54M425.26,369.49L422.62,363.12" stroke="#000" stroke-width="1.5" fill="none"/>
<circle cx="433.62" cy="394.5" r="26.3" fill="none" stroke="#000" stroke-width="1.6"/>
<circle cx="433.62" cy="394.5" r="18.0" fill="#fff" stroke="#000" stroke-width="1.8"/>
<circle cx="433.62" cy="394.5" r="10.3" fill="#000"/>
<circle cx="514.43" cy="334.7" r="8.7" fill="#000"/>
<rect x="509.13" y="333.3" width="10.6" height="2.8" fill="#fff"/>
<rect x="505.63" y="350.0" width="17.6" height="89.0" rx="8.8" fill="#000"/>
<circle cx="514.43" cy="394.5" r="33.3" fill="#fff" stroke="#000" stroke-width="2.3"/>
<path d="M512.58,368.20L512.58,361.30M516.28,368.20L516.28,361.30M522.79,369.49L525.43,363.12M526.20,370.91L528.84,364.54M531.72,374.59L536.60,369.72M534.34,377.21L539.21,372.33M538.02,382.73L544.39,380.09M539.44,386.14L545.81,383.50M540.73,392.65L547.63,392.65M540.73,396.35L547.63,396.35M539.44,402.86L545.81,405.50M538.02,406.27L544.39,408.91M534.34,411.79L539.21,416.67M531.72,414.41L536.60,419.28M526.20,418.09L528.84,424.46M522.79,419.51L525.43,425.88M516.28,420.80L516.28,427.70M512.58,420.80L512.58,427.70M506.07,419.51L503.43,425.88M502.66,418.09L500.02,424.46M497.14,414.41L492.26,419.28M494.52,411.79L489.65,416.67M490.84,406.27L484.47,408.91M489.42,402.86L483.05,405.50M488.13,396.35L481.23,396.35M488.13,392.65L481.23,392.65M489.42,386.14L483.05,383.50M490.84,382.73L484.47,380.09M494.52,377.21L489.65,372.33M497.14,374.59L492.26,369.72M502.66,370.91L500.02,364.54M506.07,369.49L503.43,363.12" stroke="#000" stroke-width="1.5" fill="none"/>
<circle cx="514.43" cy="394.5" r="26.9" fill="none" stroke="#000" stroke-width="1.6"/>
<circle cx="514.43" cy="394.5" r="18.0" fill="#fff" stroke="#000" stroke-width="1.8"/>
<circle cx="514.43" cy="394.5" r="10.3" fill="#000"/>
<circle cx="595.24" cy="334.7" r="8.7" fill="#000"/>
<rect x="589.94" y="333.3" width="10.6" height="2.8" fill="#fff"/>
<rect x="593.84" y="329.4" width="2.8" height="10.6" fill="#fff"/>
<rect x="586.44" y="350.0" width="17.6" height="89.0" rx="8.8" fill="#000"/>
<circle cx="595.24" cy="394.5" r="33.3" fill="#e03424" stroke="#000" stroke-width="2.3"/>
<path d="M593.39,368.20L593.39,361.30M597.09,368.20L597.09,361.30M603.60,369.49L606.24,363.12M607.01,370.91L609.65,364.54M612.53,374.59L617.41,369.72M615.15,377.21L620.02,372.33M618.83,382.73L625.20,380.09M620.25,386.14L626.62,383.50M621.54,392.65L628.44,392.65M621.54,396.35L628.44,396.35M620.25,402.86L626.62,405.50M618.83,406.27L625.20,408.91M615.15,411.79L620.02,416.67M612.53,414.41L617.41,419.28M607.01,418.09L609.65,424.46M603.60,419.51L606.24,425.88M597.09,420.80L597.09,427.70M593.39,420.80L593.39,427.70M586.88,419.51L584.24,425.88M583.47,418.09L580.83,424.46M577.95,414.41L573.07,419.28M575.33,411.79L570.46,416.67M571.65,406.27L565.28,408.91M570.23,402.86L563.86,405.50M568.94,396.35L562.04,396.35M568.94,392.65L562.04,392.65M570.23,386.14L563.86,383.50M571.65,382.73L565.28,380.09M575.33,377.21L570.46,372.33M577.95,374.59L573.07,369.72M583.47,370.91L580.83,364.54M586.88,369.49L584.24,363.12" stroke="#000" stroke-width="1.5" fill="none"/>
<circle cx="595.24" cy="394.5" r="26.3" fill="none" stroke="#000" stroke-width="1.6"/>
<circle cx="595.24" cy="394.5" r="18.0" fill="#fff" stroke="#000" stroke-width="1.8"/>
<circle cx="595.24" cy="394.5" r="10.3" fill="#000"/>
<circle cx="676.05" cy="334.7" r="8.7" fill="#000"/>
<rect x="670.75" y="333.3" width="10.6" height="2.8" fill="#fff"/>
<rect x="667.25" y="350.0" width="17.6" height="89.0" rx="8.8" fill="#000"/>
<circle cx="676.05" cy="394.5" r="33.3" fill="#fff" stroke="#000" stroke-width="2.3"/>
<path d="M674.20,368.20L674.20,361.30M677.90,368.20L677.90,361.30M684.41,369.49L687.05,363.12M687.82,370.91L690.46,364.54M693.34,374.59L698.22,369.72M695.96,377.21L700.83,372.33M699.64,382.73L706.01,380.09M701.06,386.14L707.43,383.50M702.35,392.65L709.25,392.65M702.35,396.35L709.25,396.35M701.06,402.86L707.43,405.50M699.64,406.27L706.01,408.91M695.96,411.79L700.83,416.67M693.34,414.41L698.22,419.28M687.82,418.09L690.46,424.46M684.41,419.51L687.05,425.88M677.90,420.80L677.90,427.70M674.20,420.80L674.20,427.70M667.69,419.51L665.05,425.88M664.28,418.09L661.64,424.46M658.76,414.41L653.88,419.28M656.14,411.79L651.27,416.67M652.46,406.27L646.09,408.91M651.04,402.86L644.67,405.50M649.75,396.35L642.85,396.35M649.75,392.65L642.85,392.65M651.04,386.14L644.67,383.50M652.46,382.73L646.09,380.09M656.14,377.21L651.27,372.33M658.76,374.59L653.88,369.72M664.28,370.91L661.64,364.54M667.69,369.49L665.05,363.12" stroke="#000" stroke-width="1.5" fill="none"/>
<circle cx="676.05" cy="394.5" r="26.9" fill="none" stroke="#000" stroke-width="1.6"/>
<circle cx="676.05" cy="394.5" r="18.0" fill="#fff" stroke="#000" stroke-width="1.8"/>
<circle cx="676.05" cy="394.5" r="10.3" fill="#000"/>
<circle cx="756.86" cy="334.7" r="8.7" fill="#000"/>
<rect x="751.56" y="333.3" width="10.6" height="2.8" fill="#fff"/>
<rect x="755.46" y="329.4" width="2.8" height="10.6" fill="#fff"/>
<rect x="748.06" y="350.0" width="17.6" height="89.0" rx="8.8" fill="#000"/>
<circle cx="756.86" cy="394.5" r="33.3" fill="#e03424" stroke="#000" stroke-width="2.3"/>
<path d="M755.01,368.20L755.01,361.30M758.71,368.20L758.71,361.30M765.22,369.49L767.86,363.12M768.63,370.91L771.27,364.54M774.15,374.59L779.03,369.72M776.77,377.21L781.64,372.33M780.45,382.73L786.82,380.09M781.87,386.14L788.24,383.50M783.16,392.65L790.06,392.65M783.16,396.35L790.06,396.35M781.87,402.86L788.24,405.50M780.45,406.27L786.82,408.91M776.77,411.79L781.64,416.67M774.15,414.41L779.03,419.28M768.63,418.09L771.27,424.46M765.22,419.51L767.86,425.88M758.71,420.80L758.71,427.70M755.01,420.80L755.01,427.70M748.50,419.51L745.86,425.88M745.09,418.09L742.45,424.46M739.57,414.41L734.69,419.28M736.95,411.79L732.08,416.67M733.27,406.27L726.90,408.91M731.85,402.86L725.48,405.50M730.56,396.35L723.66,396.35M730.56,392.65L723.66,392.65M731.85,386.14L725.48,383.50M733.27,382.73L726.90,380.09M736.95,377.21L732.08,372.33M739.57,374.59L734.69,369.72M745.09,370.91L742.45,364.54M748.50,369.49L745.86,363.12" stroke="#000" stroke-width="1.5" fill="none"/>
<circle cx="756.86" cy="394.5" r="26.3" fill="none" stroke="#000" stroke-width="1.6"/>
<circle cx="756.86" cy="394.5" r="18.0" fill="#fff" stroke="#000" stroke-width="1.8"/>
<circle cx="756.86" cy="394.5" r="10.3" fill="#000"/>
<circle cx="837.67" cy="334.7" r="8.7" fill="#000"/>
<rect x="832.37" y="333.3" width="10.6" height="2.8" fill="#fff"/>
<rect x="828.87" y="350.0" width="17.6" height="89.0" rx="8.8" fill="#000"/>
<circle cx="837.67" cy="394.5" r="33.3" fill="#fff" stroke="#000" stroke-width="2.3"/>
<path d="M835.82,368.20L835.82,361.30M839.52,368.20L839.52,361.30M846.03,369.49L848.67,363.12M849.44,370.91L852.08,364.54M854.96,374.59L859.84,369.72M857.58,377.21L862.45,372.33M861.26,382.73L867.63,380.09M862.68,386.14L869.05,383.50M863.97,392.65L870.87,392.65M863.97,396.35L870.87,396.35M862.68,402.86L869.05,405.50M861.26,406.27L867.63,408.91M857.58,411.79L862.45,416.67M854.96,414.41L859.84,419.28M849.44,418.09L852.08,424.46M846.03,419.51L848.67,425.88M839.52,420.80L839.52,427.70M835.82,420.80L835.82,427.70M829.31,419.51L826.67,425.88M825.90,418.09L823.26,424.46M820.38,414.41L815.50,419.28M817.76,411.79L812.89,416.67M814.08,406.27L807.71,408.91M812.66,402.86L806.29,405.50M811.37,396.35L804.47,396.35M811.37,392.65L804.47,392.65M812.66,386.14L806.29,383.50M814.08,382.73L807.71,380.09M817.76,377.21L812.89,372.33M820.38,374.59L815.50,369.72M825.90,370.91L823.26,364.54M829.31,369.49L826.67,363.12" stroke="#000" stroke-width="1.5" fill="none"/>
<circle cx="837.67" cy="394.5" r="26.9" fill="none" stroke="#000" stroke-width="1.6"/>
<circle cx="837.67" cy="394.5" r="18.0" fill="#fff" stroke="#000" stroke-width="1.8"/>
<circle cx="837.67" cy="394.5" r="10.3" fill="#000"/>
<circle cx="918.48" cy="334.7" r="8.7" fill="#000"/>
<rect x="913.18" y="333.3" width="10.6" height="2.8" fill="#fff"/>
<rect x="917.08" y="329.4" width="2.8" height="10.6" fill="#fff"/>
<rect x="909.68" y="350.0" width="17.6" height="89.0" rx="8.8" fill="#000"/>
<circle cx="918.48" cy="394.5" r="33.3" fill="#e03424" stroke="#000" stroke-width="2.3"/>
<path d="M916.63,368.20L916.63,361.30M920.33,368.20L920.33,361.30M926.84,369.49L929.48,363.12M930.25,370.91L932.89,364.54M935.77,374.59L940.65,369.72M938.39,377.21L943.26,372.33M942.07,382.73L948.44,380.09M943.49,386.14L949.86,383.50M944.78,392.65L951.68,392.65M944.78,396.35L951.68,396.35M943.49,402.86L949.86,405.50M942.07,406.27L948.44,408.91M938.39,411.79L943.26,416.67M935.77,414.41L940.65,419.28M930.25,418.09L932.89,424.46M926.84,419.51L929.48,425.88M920.33,420.80L920.33,427.70M916.63,420.80L916.63,427.70M910.12,419.51L907.48,425.88M906.71,418.09L904.07,424.46M901.19,414.41L896.31,419.28M898.57,411.79L893.70,416.67M894.89,406.27L888.52,408.91M893.47,402.86L887.10,405.50M892.18,396.35L885.28,396.35M892.18,392.65L885.28,392.65M893.47,386.14L887.10,383.50M894.89,382.73L888.52,380.09M898.57,377.21L893.70,372.33M901.19,374.59L896.31,369.72M906.71,370.91L904.07,364.54M910.12,369.49L907.48,363.12" stroke="#000" stroke-width="1.5" fill="none"/>
<circle cx="918.48" cy="394.5" r="26.3" fill="none" stroke="#000" stroke-width="1.6"/>
<circle cx="918.48" cy="394.5" r="18.0" fill="#fff" stroke="#000" stroke-width="1.8"/>
<circle cx="918.48" cy="394.5" r="10.3" fill="#000"/>
<circle cx="999.29" cy="334.7" r="8.7" fill="#000"/>
<rect x="993.99" y="333.3" width="10.6" height="2.8" fill="#fff"/>
<rect x="990.49" y="350.0" width="17.6" height="89.0" rx="8.8" fill="#000"/>
<circle cx="999.29" cy="394.5" r="33.3" fill="#fff" stroke="#000" stroke-width="2.3"/>
<path d="M997.44,368.20L997.44,361.30M1001.14,368.20L1001.14,361.30M1007.65,369.49L1010.29,363.12M1011.06,370.91L1013.70,364.54M1016.58,374.59L1021.46,369.72M1019.20,377.21L1024.07,372.33M1022.88,382.73L1029.25,380.09M1024.30,386.14L1030.67,383.50M1025.59,392.65L1032.49,392.65M1025.59,396.35L1032.49,396.35M1024.30,402.86L1030.67,405.50M1022.88,406.27L1029.25,408.91M1019.20,411.79L1024.07,416.67M1016.58,414.41L1021.46,419.28M1011.06,418.09L1013.70,424.46M1007.65,419.51L1010.29,425.88M1001.14,420.80L1001.14,427.70M997.44,420.80L997.44,427.70M990.93,419.51L988.29,425.88M987.52,418.09L984.88,424.46M982.00,414.41L977.12,419.28M979.38,411.79L974.51,416.67M975.70,406.27L969.33,408.91M974.28,402.86L967.91,405.50M972.99,396.35L966.09,396.35M972.99,392.65L966.09,392.65M974.28,386.14L967.91,383.50M975.70,382.73L969.33,380.09M979.38,377.21L974.51,372.33M982.00,374.59L977.12,369.72M987.52,370.91L984.88,364.54M990.93,369.49L988.29,363.12" stroke="#000" stroke-width="1.5" fill="none"/>
<circle cx="999.29" cy="394.5" r="26.9" fill="none" stroke="#000" stroke-width="1.6"/>
<circle cx="999.29" cy="394.5" r="18.0" fill="#fff" stroke="#000" stroke-width="1.8"/>
<circle cx="999.29" cy="394.5" r="10.3" fill="#000"/>
<circle cx="1080.10" cy="334.7" r="8.7" fill="#000"/>
<rect x="1074.80" y="333.3" width="10.6" height="2.8" fill="#fff"/>
<rect x="1078.70" y="329.4" width="2.8" height="10.6" fill="#fff"/>
<rect x="1071.30" y="350.0" width="17.6" height="89.0" rx="8.8" fill="#000"/>
<circle cx="1080.10" cy="394.5" r="33.3" fill="#e03424" stroke="#000" stroke-width="2.3"/>
<path d="M1078.25,368.20L1078.25,361.30M1081.95,368.20L1081.95,361.30M1088.46,369.49L1091.10,363.12M1091.87,370.91L1094.51,364.54M1097.39,374.59L1102.27,369.72M1100.01,377.21L1104.88,372.33M1103.69,382.73L1110.06,380.09M1105.11,386.14L1111.48,383.50M1106.40,392.65L1113.30,392.65M1106.40,396.35L1113.30,396.35M1105.11,402.86L1111.48,405.50M1103.69,406.27L1110.06,408.91M1100.01,411.79L1104.88,416.67M1097.39,414.41L1102.27,419.28M1091.87,418.09L1094.51,424.46M1088.46,419.51L1091.10,425.88M1081.95,420.80L1081.95,427.70M1078.25,420.80L1078.25,427.70M1071.74,419.51L1069.10,425.88M1068.33,418.09L1065.69,424.46M1062.81,414.41L1057.93,419.28M1060.19,411.79L1055.32,416.67M1056.51,406.27L1050.14,408.91M1055.09,402.86L1048.72,405.50M1053.80,396.35L1046.90,396.35M1053.80,392.65L1046.90,392.65M1055.09,386.14L1048.72,383.50M1056.51,382.73L1050.14,380.09M1060.19,377.21L1055.32,372.33M1062.81,374.59L1057.93,369.72M1068.33,370.91L1065.69,364.54M1071.74,369.49L1069.10,363.12" stroke="#000" stroke-width="1.5" fill="none"/>
<circle cx="1080.10" cy="394.5" r="26.3" fill="none" stroke="#000" stroke-width="1.6"/>
<circle cx="1080.10" cy="394.5" r="18.0" fill="#fff" stroke="#000" stroke-width="1.8"/>
<circle cx="1080.10" cy="394.5" r="10.3" fill="#000"/>
<circle cx="1160.91" cy="334.7" r="8.7" fill="#000"/>
<rect x="1155.61" y="333.3" width="10.6" height="2.8" fill="#fff"/>
<rect x="1152.11" y="350.0" width="17.6" height="89.0" rx="8.8" fill="#000"/>
<circle cx="1160.91" cy="394.5" r="33.3" fill="#fff" stroke="#000" stroke-width="2.3"/>
<path d="M1159.06,368.20L1159.06,361.30M1162.76,368.20L1162.76,361.30M1169.27,369.49L1171.91,363.12M1172.68,370.91L1175.32,364.54M1178.20,374.59L1183.08,369.72M1180.82,377.21L1185.69,372.33M1184.50,382.73L1190.87,380.09M1185.92,386.14L1192.29,383.50M1187.21,392.65L1194.11,392.65M1187.21,396.35L1194.11,396.35M1185.92,402.86L1192.29,405.50M1184.50,406.27L1190.87,408.91M1180.82,411.79L1185.69,416.67M1178.20,414.41L1183.08,419.28M1172.68,418.09L1175.32,424.46M1169.27,419.51L1171.91,425.88M1162.76,420.80L1162.76,427.70M1159.06,420.80L1159.06,427.70M1152.55,419.51L1149.91,425.88M1149.14,418.09L1146.50,424.46M1143.62,414.41L1138.74,419.28M1141.00,411.79L1136.13,416.67M1137.32,406.27L1130.95,408.91M1135.90,402.86L1129.53,405.50M1134.61,396.35L1127.71,396.35M1134.61,392.65L1127.71,392.65M1135.90,386.14L1129.53,383.50M1137.32,382.73L1130.95,380.09M1141.00,377.21L1136.13,372.33M1143.62,374.59L1138.74,369.72M1149.14,370.91L1146.50,364.54M1152.55,369.49L1149.91,363.12" stroke="#000" stroke-width="1.5" fill="none"/>
<circle cx="1160.91" cy="394.5" r="26.9" fill="none" stroke="#000" stroke-width="1.6"/>
<circle cx="1160.91" cy="394.5" r="18.0" fill="#fff" stroke="#000" stroke-width="1.8"/>
<circle cx="1160.91" cy="394.5" r="10.3" fill="#000"/>
<circle cx="1241.72" cy="334.7" r="8.7" fill="#000"/>
<rect x="1236.42" y="333.3" width="10.6" height="2.8" fill="#fff"/>
<rect x="1240.32" y="329.4" width="2.8" height="10.6" fill="#fff"/>
<rect x="1232.92" y="350.0" width="17.6" height="89.0" rx="8.8" fill="#000"/>
<circle cx="1241.72" cy="394.5" r="33.3" fill="#e03424" stroke="#000" stroke-width="2.3"/>
<path d="M1239.87,368.20L1239.87,361.30M1243.57,368.20L1243.57,361.30M1250.08,369.49L1252.72,363.12M1253.49,370.91L1256.13,364.54M1259.01,374.59L1263.89,369.72M1261.63,377.21L1266.50,372.33M1265.31,382.73L1271.68,380.09M1266.73,386.14L1273.10,383.50M1268.02,392.65L1274.92,392.65M1268.02,396.35L1274.92,396.35M1266.73,402.86L1273.10,405.50M1265.31,406.27L1271.68,408.91M1261.63,411.79L1266.50,416.67M1259.01,414.41L1263.89,419.28M1253.49,418.09L1256.13,424.46M1250.08,419.51L1252.72,425.88M1243.57,420.80L1243.57,427.70M1239.87,420.80L1239.87,427.70M1233.36,419.51L1230.72,425.88M1229.95,418.09L1227.31,424.46M1224.43,414.41L1219.55,419.28M1221.81,411.79L1216.94,416.67M1218.13,406.27L1211.76,408.91M1216.71,402.86L1210.34,405.50M1215.42,396.35L1208.52,396.35M1215.42,392.65L1208.52,392.65M1216.71,386.14L1210.34,383.50M1218.13,382.73L1211.76,380.09M1221.81,377.21L1216.94,372.33M1224.43,374.59L1219.55,369.72M1229.95,370.91L1227.31,364.54M1233.36,369.49L1230.72,363.12" stroke="#000" stroke-width="1.5" fill="none"/>
<circle cx="1241.72" cy="394.5" r="26.3" fill="none" stroke="#000" stroke-width="1.6"/>
<circle cx="1241.72" cy="394.5" r="18.0" fill="#fff" stroke="#000" stroke-width="1.8"/>
<circle cx="1241.72" cy="394.5" r="10.3" fill="#000"/>
<circle cx="1322.53" cy="334.7" r="8.7" fill="#000"/>
<rect x="1317.23" y="333.3" width="10.6" height="2.8" fill="#fff"/>
<rect x="1313.73" y="350.0" width="17.6" height="89.0" rx="8.8" fill="#000"/>
<circle cx="1322.53" cy="394.5" r="33.3" fill="#fff" stroke="#000" stroke-width="2.3"/>
<path d="M1320.68,368.20L1320.68,361.30M1324.38,368.20L1324.38,361.30M1330.89,369.49L1333.53,363.12M1334.30,370.91L1336.94,364.54M1339.82,374.59L1344.70,369.72M1342.44,377.21L1347.31,372.33M1346.12,382.73L1352.49,380.09M1347.54,386.14L1353.91,383.50M1348.83,392.65L1355.73,392.65M1348.83,396.35L1355.73,396.35M1347.54,402.86L1353.91,405.50M1346.12,406.27L1352.49,408.91M1342.44,411.79L1347.31,416.67M1339.82,414.41L1344.70,419.28M1334.30,418.09L1336.94,424.46M1330.89,419.51L1333.53,425.88M1324.38,420.80L1324.38,427.70M1320.68,420.80L1320.68,427.70M1314.17,419.51L1311.53,425.88M1310.76,418.09L1308.12,424.46M1305.24,414.41L1300.36,419.28M1302.62,411.79L1297.75,416.67M1298.94,406.27L1292.57,408.91M1297.52,402.86L1291.15,405.50M1296.23,396.35L1289.33,396.35M1296.23,392.65L1289.33,392.65M1297.52,386.14L1291.15,383.50M1298.94,382.73L1292.57,380.09M1302.62,377.21L1297.75,372.33M1305.24,374.59L1300.36,369.72M1310.76,370.91L1308.12,364.54M1314.17,369.49L1311.53,363.12" stroke="#000" stroke-width="1.5" fill="none"/>
<circle cx="1322.53" cy="394.5" r="26.9" fill="none" stroke="#000" stroke-width="1.6"/>
<circle cx="1322.53" cy="394.5" r="18.0" fill="#fff" stroke="#000" stroke-width="1.8"/>
<circle cx="1322.53" cy="394.5" r="10.3" fill="#000"/>
<circle cx="1403.34" cy="334.7" r="8.7" fill="#000"/>
<rect x="1398.04" y="333.3" width="10.6" height="2.8" fill="#fff"/>
<rect x="1401.94" y="329.4" width="2.8" height="10.6" fill="#fff"/>
<rect x="1394.54" y="350.0" width="17.6" height="89.0" rx="8.8" fill="#000"/>
<circle cx="1403.34" cy="394.5" r="33.3" fill="#e03424" stroke="#000" stroke-width="2.3"/>
<path d="M1401.49,368.20L1401.49,361.30M1405.19,368.20L1405.19,361.30M1411.70,369.49L1414.34,363.12M1415.11,370.91L1417.75,364.54M1420.63,374.59L1425.51,369.72M1423.25,377.21L1428.12,372.33M1426.93,382.73L1433.30,380.09M1428.35,386.14L1434.72,383.50M1429.64,392.65L1436.54,392.65M1429.64,396.35L1436.54,396.35M1428.35,402.86L1434.72,405.50M1426.93,406.27L1433.30,408.91M1423.25,411.79L1428.12,416.67M1420.63,414.41L1425.51,419.28M1415.11,418.09L1417.75,424.46M1411.70,419.51L1414.34,425.88M1405.19,420.80L1405.19,427.70M1401.49,420.80L1401.49,427.70M1394.98,419.51L1392.34,425.88M1391.57,418.09L1388.93,424.46M1386.05,414.41L1381.17,419.28M1383.43,411.79L1378.56,416.67M1379.75,406.27L1373.38,408.91M1378.33,402.86L1371.96,405.50M1377.04,396.35L1370.14,396.35M1377.04,392.65L1370.14,392.65M1378.33,386.14L1371.96,383.50M1379.75,382.73L1373.38,380.09M1383.43,377.21L1378.56,372.33M1386.05,374.59L1381.17,369.72M1391.57,370.91L1388.93,364.54M1394.98,369.49L1392.34,363.12" stroke="#000" stroke-width="1.5" fill="none"/>
<circle cx="1403.34" cy="394.5" r="26.3" fill="none" stroke="#000" stroke-width="1.6"/>
<circle cx="1403.34" cy="394.5" r="18.0" fill="#fff" stroke="#000" stroke-width="1.8"/>
<circle cx="1403.34" cy="394.5" r="10.3" fill="#000"/>
<circle cx="1484.15" cy="334.7" r="8.7" fill="#000"/>
<rect x="1478.85" y="333.3" width="10.6" height="2.8" fill="#fff"/>
<rect x="1475.35" y="350.0" width="17.6" height="89.0" rx="8.8" fill="#000"/>
<circle cx="1484.15" cy="394.5" r="33.3" fill="#fff" stroke="#000" stroke-width="2.3"/>
<path d="M1482.30,368.20L1482.30,361.30M1486.00,368.20L1486.00,361.30M1492.51,369.49L1495.15,363.12M1495.92,370.91L1498.56,364.54M1501.44,374.59L1506.32,369.72M1504.06,377.21L1508.93,372.33M1507.74,382.73L1514.11,380.09M1509.16,386.14L1515.53,383.50M1510.45,392.65L1517.35,392.65M1510.45,396.35L1517.35,396.35M1509.16,402.86L1515.53,405.50M1507.74,406.27L1514.11,408.91M1504.06,411.79L1508.93,416.67M1501.44,414.41L1506.32,419.28M1495.92,418.09L1498.56,424.46M1492.51,419.51L1495.15,425.88M1486.00,420.80L1486.00,427.70M1482.30,420.80L1482.30,427.70M1475.79,419.51L1473.15,425.88M1472.38,418.09L1469.74,424.46M1466.86,414.41L1461.98,419.28M1464.24,411.79L1459.37,416.67M1460.56,406.27L1454.19,408.91M1459.14,402.86L1452.77,405.50M1457.85,396.35L1450.95,396.35M1457.85,392.65L1450.95,392.65M1459.14,386.14L1452.77,383.50M1460.56,382.73L1454.19,380.09M1464.24,377.21L1459.37,372.33M1466.86,374.59L1461.98,369.72M1472.38,370.91L1469.74,364.54M1475.79,369.49L1473.15,363.12" stroke="#000" stroke-width="1.5" fill="none"/>
<circle cx="1484.15" cy="394.5" r="26.9" fill="none" stroke="#000" stroke-width="1.6"/>
<circle cx="1484.15" cy="394.5" r="18.0" fill="#fff" stroke="#000" stroke-width="1.8"/>
<circle cx="1484.15" cy="394.5" r="10.3" fill="#000"/>
<circle cx="1564.96" cy="334.7" r="8.7" fill="#000"/>
<rect x="1559.66" y="333.3" width="10.6" height="2.8" fill="#fff"/>
<rect x="1563.56" y="329.4" width="2.8" height="10.6" fill="#fff"/>
<rect x="1556.16" y="350.0" width="17.6" height="89.0" rx="8.8" fill="#000"/>
<circle cx="1564.96" cy="394.5" r="33.3" fill="#e03424" stroke="#000" stroke-width="2.3"/>
<path d="M1563.11,368.20L1563.11,361.30M1566.81,368.20L1566.81,361.30M1573.32,369.49L1575.96,363.12M1576.73,370.91L1579.37,364.54M1582.25,374.59L1587.13,369.72M1584.87,377.21L1589.74,372.33M1588.55,382.73L1594.92,380.09M1589.97,386.14L1596.34,383.50M1591.26,392.65L1598.16,392.65M1591.26,396.35L1598.16,396.35M1589.97,402.86L1596.34,405.50M1588.55,406.27L1594.92,408.91M1584.87,411.79L1589.74,416.67M1582.25,414.41L1587.13,419.28M1576.73,418.09L1579.37,424.46M1573.32,419.51L1575.96,425.88M1566.81,420.80L1566.81,427.70M1563.11,420.80L1563.11,427.70M1556.60,419.51L1553.96,425.88M1553.19,418.09L1550.55,424.46M1547.67,414.41L1542.79,419.28M1545.05,411.79L1540.18,416.67M1541.37,406.27L1535.00,408.91M1539.95,402.86L1533.58,405.50M1538.66,396.35L1531.76,396.35M1538.66,392.65L1531.76,392.65M1539.95,386.14L1533.58,383.50M1541.37,382.73L1535.00,380.09M1545.05,377.21L1540.18,372.33M1547.67,374.59L1542.79,369.72M1553.19,370.91L1550.55,364.54M1556.60,369.49L1553.96,363.12" stroke="#000" stroke-width="1.5" fill="none"/>
<circle cx="1564.96" cy="394.5" r="26.3" fill="none" stroke="#000" stroke-width="1.6"/>
<circle cx="1564.96" cy="394.5" r="18.0" fill="#fff" stroke="#000" stroke-width="1.8"/>
<circle cx="1564.96" cy="394.5" r="10.3" fill="#000"/>
<circle cx="1645.77" cy="334.7" r="8.7" fill="#000"/>
<rect x="1640.47" y="333.3" width="10.6" height="2.8" fill="#fff"/>
<rect x="1636.97" y="350.0" width="17.6" height="89.0" rx="8.8" fill="#000"/>
<circle cx="1645.77" cy="394.5" r="33.3" fill="#fff" stroke="#000" stroke-width="2.3"/>
<path d="M1643.92,368.20L1643.92,361.30M1647.62,368.20L1647.62,361.30M1654.13,369.49L1656.77,363.12M1657.54,370.91L1660.18,364.54M1663.06,374.59L1667.94,369.72M1665.68,377.21L1670.55,372.33M1669.36,382.73L1675.73,380.09M1670.78,386.14L1677.15,383.50M1672.07,392.65L1678.97,392.65M1672.07,396.35L1678.97,396.35M1670.78,402.86L1677.15,405.50M1669.36,406.27L1675.73,408.91M1665.68,411.79L1670.55,416.67M1663.06,414.41L1667.94,419.28M1657.54,418.09L1660.18,424.46M1654.13,419.51L1656.77,425.88M1647.62,420.80L1647.62,427.70M1643.92,420.80L1643.92,427.70M1637.41,419.51L1634.77,425.88M1634.00,418.09L1631.36,424.46M1628.48,414.41L1623.60,419.28M1625.86,411.79L1620.99,416.67M1622.18,406.27L1615.81,408.91M1620.76,402.86L1614.39,405.50M1619.47,396.35L1612.57,396.35M1619.47,392.65L1612.57,392.65M1620.76,386.14L1614.39,383.50M1622.18,382.73L1615.81,380.09M1625.86,377.21L1620.99,372.33M1628.48,374.59L1623.60,369.72M1634.00,370.91L1631.36,364.54M1637.41,369.49L1634.77,363.12" stroke="#000" stroke-width="1.5" fill="none"/>
<circle cx="1645.77" cy="394.5" r="26.9" fill="none" stroke="#000" stroke-width="1.6"/>
<circle cx="1645.77" cy="394.5" r="18.0" fill="#fff" stroke="#000" stroke-width="1.8"/>
<circle cx="1645.77" cy="394.5" r="10.3" fill="#000"/>
<circle cx="1726.58" cy="334.7" r="8.7" fill="#c0c0c0"/>
<rect x="1721.28" y="333.3" width="10.6" height="2.8" fill="#fff"/>
<rect x="1725.18" y="329.4" width="2.8" height="10.6" fill="#fff"/>
<rect x="1717.78" y="350.0" width="17.6" height="89.0" rx="8.8" fill="#c0c0c0"/>
<circle cx="1726.58" cy="394.5" r="33.3" fill="#f9a391" stroke="#c0c0c0" stroke-width="2.3"/>
<path d="M1724.73,368.20L1724.73,361.30M1728.43,368.20L1728.43,361.30M1734.94,369.49L1737.58,363.12M1738.35,370.91L1740.99,364.54M1743.87,374.59L1748.75,369.72M1746.49,377.21L1751.36,372.33M1750.17,382.73L1756.54,380.09M1751.59,386.14L1757.96,383.50M1752.88,392.65L1759.78,392.65M1752.88,396.35L1759.78,396.35M1751.59,402.86L1757.96,405.50M1750.17,406.27L1756.54,408.91M1746.49,411.79L1751.36,416.67M1743.87,414.41L1748.75,419.28M1738.35,418.09L1740.99,424.46M1734.94,419.51L1737.58,425.88M1728.43,420.80L1728.43,427.70M1724.73,420.80L1724.73,427.70M1718.22,419.51L1715.58,425.88M1714.81,418.09L1712.17,424.46M1709.29,414.41L1704.41,419.28M1706.67,411.79L1701.80,416.67M1702.99,406.27L1696.62,408.91M1701.57,402.86L1695.20,405.50M1700.28,396.35L1693.38,396.35M1700.28,392.65L1693.38,392.65M1701.57,386.14L1695.20,383.50M1702.99,382.73L1696.62,380.09M1706.67,377.21L1701.80,372.33M1709.29,374.59L1704.41,369.72M1714.81,370.91L1712.17,364.54M1718.22,369.49L1715.58,363.12" stroke="#c0c0c0" stroke-width="1.5" fill="none"/>
<circle cx="1726.58" cy="394.5" r="26.3" fill="none" stroke="#c0c0c0" stroke-width="1.6"/>
<circle cx="1726.58" cy="394.5" r="18.0" fill="#fff" stroke="#c0c0c0" stroke-width="1.8"/>
<circle cx="1726.58" cy="394.5" r="10.3" fill="#c0c0c0"/>
<circle cx="1807.39" cy="334.7" r="8.7" fill="#c0c0c0"/>
<rect x="1802.09" y="333.3" width="10.6" height="2.8" fill="#fff"/>
<rect x="1798.59" y="350.0" width="17.6" height="89.0" rx="8.8" fill="#c0c0c0"/>
<circle cx="1807.39" cy="394.5" r="33.3" fill="#fff" stroke="#c0c0c0" stroke-width="2.3"/>
<path d="M1805.54,368.20L1805.54,361.30M1809.24,368.20L1809.24,361.30M1815.75,369.49L1818.39,363.12M1819.16,370.91L1821.80,364.54M1824.68,374.59L1829.56,369.72M1827.30,377.21L1832.17,372.33M1830.98,382.73L1837.35,380.09M1832.40,386.14L1838.77,383.50M1833.69,392.65L1840.59,392.65M1833.69,396.35L1840.59,396.35M1832.40,402.86L1838.77,405.50M1830.98,406.27L1837.35,408.91M1827.30,411.79L1832.17,416.67M1824.68,414.41L1829.56,419.28M1819.16,418.09L1821.80,424.46M1815.75,419.51L1818.39,425.88M1809.24,420.80L1809.24,427.70M1805.54,420.80L1805.54,427.70M1799.03,419.51L1796.39,425.88M1795.62,418.09L1792.98,424.46M1790.10,414.41L1785.22,419.28M1787.48,411.79L1782.61,416.67M1783.80,406.27L1777.43,408.91M1782.38,402.86L1776.01,405.50M1781.09,396.35L1774.19,396.35M1781.09,392.65L1774.19,392.65M1782.38,386.14L1776.01,383.50M1783.80,382.73L1777.43,380.09M1787.48,377.21L1782.61,372.33M1790.10,374.59L1785.22,369.72M1795.62,370.91L1792.98,364.54M1799.03,369.49L1796.39,363.12" stroke="#c0c0c0" stroke-width="1.5" fill="none"/>
<circle cx="1807.39" cy="394.5" r="26.9" fill="none" stroke="#c0c0c0" stroke-width="1.6"/>
<circle cx="1807.39" cy="394.5" r="18.0" fill="#fff" stroke="#c0c0c0" stroke-width="1.8"/>
<circle cx="1807.39" cy="394.5" r="10.3" fill="#c0c0c0"/>
<circle cx="1888.20" cy="334.7" r="8.7" fill="#c0c0c0"/>
<rect x="1882.90" y="333.3" width="10.6" height="2.8" fill="#fff"/>
<rect x="1886.80" y="329.4" width="2.8" height="10.6" fill="#fff"/>
<rect x="1879.40" y="350.0" width="17.6" height="89.0" rx="8.8" fill="#c0c0c0"/>
<circle cx="1888.20" cy="394.5" r="33.3" fill="#f9a391" stroke="#c0c0c0" stroke-width="2.3"/>
<path d="M1886.35,368.20L1886.35,361.30M1890.05,368.20L1890.05,361.30M1896.56,369.49L1899.20,363.12M1899.97,370.91L1902.61,364.54M1905.49,374.59L1910.37,369.72M1908.11,377.21L1912.98,372.33M1911.79,382.73L1918.16,380.09M1913.21,386.14L1919.58,383.50M1914.50,392.65L1921.40,392.65M1914.50,396.35L1921.40,396.35M1913.21,402.86L1919.58,405.50M1911.79,406.27L1918.16,408.91M1908.11,411.79L1912.98,416.67M1905.49,414.41L1910.37,419.28M1899.97,418.09L1902.61,424.46M1896.56,419.51L1899.20,425.88M1890.05,420.80L1890.05,427.70M1886.35,420.80L1886.35,427.70M1879.84,419.51L1877.20,425.88M1876.43,418.09L1873.79,424.46M1870.91,414.41L1866.03,419.28M1868.29,411.79L1863.42,416.67M1864.61,406.27L1858.24,408.91M1863.19,402.86L1856.82,405.50M1861.90,396.35L1855.00,396.35M1861.90,392.65L1855.00,392.65M1863.19,386.14L1856.82,383.50M1864.61,382.73L1858.24,380.09M1868.29,377.21L1863.42,372.33M1870.91,374.59L1866.03,369.72M1876.43,370.91L1873.79,364.54M1879.84,369.49L1877.20,363.12" stroke="#c0c0c0" stroke-width="1.5" fill="none"/>
<circle cx="1888.20" cy="394.5" r="26.3" fill="none" stroke="#c0c0c0" stroke-width="1.6"/>
<circle cx="1888.20" cy="394.5" r="18.0" fill="#fff" stroke="#c0c0c0" stroke-width="1.8"/>
<circle cx="1888.20" cy="394.5" r="10.3" fill="#c0c0c0"/>
<circle cx="1969.01" cy="334.7" r="8.7" fill="#c0c0c0"/>
<rect x="1963.71" y="333.3" width="10.6" height="2.8" fill="#fff"/>
<rect x="1960.21" y="350.0" width="17.6" height="89.0" rx="8.8" fill="#c0c0c0"/>
<circle cx="1969.01" cy="394.5" r="33.3" fill="#fff" stroke="#c0c0c0" stroke-width="2.3"/>
<path d="M1967.16,368.20L1967.16,361.30M1970.86,368.20L1970.86,361.30M1977.37,369.49L1980.01,363.12M1980.78,370.91L1983.42,364.54M1986.30,374.59L1991.18,369.72M1988.92,377.21L1993.79,372.33M1992.60,382.73L1998.97,380.09M1994.02,386.14L2000.39,383.50M1995.31,392.65L2002.21,392.65M1995.31,396.35L2002.21,396.35M1994.02,402.86L2000.39,405.50M1992.60,406.27L1998.97,408.91M1988.92,411.79L1993.79,416.67M1986.30,414.41L1991.18,419.28M1980.78,418.09L1983.42,424.46M1977.37,419.51L1980.01,425.88M1970.86,420.80L1970.86,427.70M1967.16,420.80L1967.16,427.70M1960.65,419.51L1958.01,425.88M1957.24,418.09L1954.60,424.46M1951.72,414.41L1946.84,419.28M1949.10,411.79L1944.23,416.67M1945.42,406.27L1939.05,408.91M1944.00,402.86L1937.63,405.50M1942.71,396.35L1935.81,396.35M1942.71,392.65L1935.81,392.65M1944.00,386.14L1937.63,383.50M1945.42,382.73L1939.05,380.09M1949.10,377.21L1944.23,372.33M1951.72,374.59L1946.84,369.72M1957.24,370.91L1954.60,364.54M1960.65,369.49L1958.01,363.12" stroke="#c0c0c0" stroke-width="1.5" fill="none"/>
<circle cx="1969.01" cy="394.5" r="26.9" fill="none" stroke="#c0c0c0" stroke-width="1.6"/>
<circle cx="1969.01" cy="394.5" r="18.0" fill="#fff" stroke="#c0c0c0" stroke-width="1.8"/>
<circle cx="1969.01" cy="394.5" r="10.3" fill="#c0c0c0"/>
<text x="998.94" y="462.90" font-size="15.27" font-weight="normal" fill="#fff" textLength="66.83" lengthAdjust="spacingAndGlyphs" >SPEAKERS</text>
<text x="1175.98" y="444.90" font-size="12.36" font-weight="normal" fill="#000" textLength="51.05" lengthAdjust="spacingAndGlyphs" >ASSIGNABLE</text>
<text x="1499.48" y="444.90" font-size="12.36" font-weight="normal" fill="#000" textLength="51.05" lengthAdjust="spacingAndGlyphs" >ASSIGNABLE</text>
<text x="1818.27" y="443.20" font-size="12.65" font-weight="bold" fill="#c0c0c0" stroke="#c0c0c0" stroke-width="0.4" textLength="59.28" lengthAdjust="spacingAndGlyphs" >ASSIGNABLE</text>
<rect x="305.90" y="436.5" width="13.0" height="172" fill="#000"/>
<rect x="467.52" y="436.5" width="13.0" height="172" fill="#000"/>
<rect x="629.14" y="436.5" width="13.0" height="172" fill="#000"/>
<rect x="790.76" y="436.5" width="13.0" height="172" fill="#000"/>
<rect x="952.38" y="436.5" width="13.0" height="172" fill="#000"/>
<rect x="1114.00" y="436.5" width="13.0" height="172" fill="#000"/>
<rect x="1275.62" y="436.5" width="13.0" height="172" fill="#000"/>
<rect x="1437.24" y="436.5" width="13.0" height="172" fill="#000"/>
<rect x="1598.86" y="436.5" width="13.0" height="172" fill="#000"/>
<rect x="253.30" y="609.5" width="118.2" height="190.0" fill="#fff" stroke="#000" stroke-width="5.8"/>
<circle cx="312.40" cy="654.2" r="21.1" fill="none" stroke="#000" stroke-width="2.4"/>
<circle cx="312.40" cy="654.2" r="10.6" fill="none" stroke="#000" stroke-width="2.4"/>
<path d="M296.40,701.10 L329.40,701.10 Q333.40,701.10 336.23,703.93 L350.07,717.77 Q352.90,720.60 352.90,724.60 L352.90,757.60 Q352.90,761.60 350.07,764.43 L336.23,778.27 Q333.40,781.10 329.40,781.10 L296.40,781.10 Q292.40,781.10 289.57,778.27 L275.73,764.43 Q272.90,761.60 272.90,757.60 L272.90,724.60 Q272.90,720.60 275.73,717.77 L289.57,703.93 Q292.40,701.10 296.40,701.10 Z" fill="none" stroke="#000" stroke-width="2.3"/>
<circle cx="312.90" cy="741.1" r="33.7" fill="none" stroke="#000" stroke-width="2.5"/>
<circle cx="312.90" cy="741.1" r="11.3" fill="none" stroke="#000" stroke-width="2.3"/>
<rect x="414.92" y="609.5" width="118.2" height="190.0" fill="#fff" stroke="#000" stroke-width="5.8"/>
<circle cx="474.02" cy="654.2" r="21.1" fill="none" stroke="#000" stroke-width="2.4"/>
<circle cx="474.02" cy="654.2" r="10.6" fill="none" stroke="#000" stroke-width="2.4"/>
<path d="M458.02,701.10 L491.02,701.10 Q495.02,701.10 497.85,703.93 L511.69,717.77 Q514.52,720.60 514.52,724.60 L514.52,757.60 Q514.52,761.60 511.69,764.43 L497.85,778.27 Q495.02,781.10 491.02,781.10 L458.02,781.10 Q454.02,781.10 451.19,778.27 L437.35,764.43 Q434.52,761.60 434.52,757.60 L434.52,724.60 Q434.52,720.60 437.35,717.77 L451.19,703.93 Q454.02,701.10 458.02,701.10 Z" fill="none" stroke="#000" stroke-width="2.3"/>
<circle cx="474.52" cy="741.1" r="33.7" fill="none" stroke="#000" stroke-width="2.5"/>
<circle cx="474.52" cy="741.1" r="11.3" fill="none" stroke="#000" stroke-width="2.3"/>
<rect x="576.54" y="609.5" width="118.2" height="190.0" fill="#fff" stroke="#000" stroke-width="5.8"/>
<circle cx="635.64" cy="654.2" r="21.1" fill="none" stroke="#000" stroke-width="2.4"/>
<circle cx="635.64" cy="654.2" r="10.6" fill="none" stroke="#000" stroke-width="2.4"/>
<path d="M619.64,701.10 L652.64,701.10 Q656.64,701.10 659.47,703.93 L673.31,717.77 Q676.14,720.60 676.14,724.60 L676.14,757.60 Q676.14,761.60 673.31,764.43 L659.47,778.27 Q656.64,781.10 652.64,781.10 L619.64,781.10 Q615.64,781.10 612.81,778.27 L598.97,764.43 Q596.14,761.60 596.14,757.60 L596.14,724.60 Q596.14,720.60 598.97,717.77 L612.81,703.93 Q615.64,701.10 619.64,701.10 Z" fill="none" stroke="#000" stroke-width="2.3"/>
<circle cx="636.14" cy="741.1" r="33.7" fill="none" stroke="#000" stroke-width="2.5"/>
<circle cx="636.14" cy="741.1" r="11.3" fill="none" stroke="#000" stroke-width="2.3"/>
<rect x="738.16" y="609.5" width="118.2" height="190.0" fill="#fff" stroke="#000" stroke-width="5.8"/>
<circle cx="797.26" cy="654.2" r="21.1" fill="none" stroke="#000" stroke-width="2.4"/>
<circle cx="797.26" cy="654.2" r="10.6" fill="none" stroke="#000" stroke-width="2.4"/>
<path d="M781.26,701.10 L814.26,701.10 Q818.26,701.10 821.09,703.93 L834.93,717.77 Q837.76,720.60 837.76,724.60 L837.76,757.60 Q837.76,761.60 834.93,764.43 L821.09,778.27 Q818.26,781.10 814.26,781.10 L781.26,781.10 Q777.26,781.10 774.43,778.27 L760.59,764.43 Q757.76,761.60 757.76,757.60 L757.76,724.60 Q757.76,720.60 760.59,717.77 L774.43,703.93 Q777.26,701.10 781.26,701.10 Z" fill="none" stroke="#000" stroke-width="2.3"/>
<circle cx="797.76" cy="741.1" r="33.7" fill="none" stroke="#000" stroke-width="2.5"/>
<circle cx="797.76" cy="741.1" r="11.3" fill="none" stroke="#000" stroke-width="2.3"/>
<rect x="899.78" y="609.5" width="118.2" height="190.0" fill="#fff" stroke="#000" stroke-width="5.8"/>
<circle cx="958.88" cy="654.2" r="21.1" fill="none" stroke="#000" stroke-width="2.4"/>
<circle cx="958.88" cy="654.2" r="10.6" fill="none" stroke="#000" stroke-width="2.4"/>
<path d="M942.88,701.10 L975.88,701.10 Q979.88,701.10 982.71,703.93 L996.55,717.77 Q999.38,720.60 999.38,724.60 L999.38,757.60 Q999.38,761.60 996.55,764.43 L982.71,778.27 Q979.88,781.10 975.88,781.10 L942.88,781.10 Q938.88,781.10 936.05,778.27 L922.21,764.43 Q919.38,761.60 919.38,757.60 L919.38,724.60 Q919.38,720.60 922.21,717.77 L936.05,703.93 Q938.88,701.10 942.88,701.10 Z" fill="none" stroke="#000" stroke-width="2.3"/>
<circle cx="959.38" cy="741.1" r="33.7" fill="none" stroke="#000" stroke-width="2.5"/>
<circle cx="959.38" cy="741.1" r="11.3" fill="none" stroke="#000" stroke-width="2.3"/>
<rect x="1061.40" y="609.5" width="118.2" height="190.0" fill="#fff" stroke="#000" stroke-width="5.8"/>
<circle cx="1120.50" cy="654.2" r="21.1" fill="none" stroke="#000" stroke-width="2.4"/>
<circle cx="1120.50" cy="654.2" r="10.6" fill="none" stroke="#000" stroke-width="2.4"/>
<path d="M1104.50,701.10 L1137.50,701.10 Q1141.50,701.10 1144.33,703.93 L1158.17,717.77 Q1161.00,720.60 1161.00,724.60 L1161.00,757.60 Q1161.00,761.60 1158.17,764.43 L1144.33,778.27 Q1141.50,781.10 1137.50,781.10 L1104.50,781.10 Q1100.50,781.10 1097.67,778.27 L1083.83,764.43 Q1081.00,761.60 1081.00,757.60 L1081.00,724.60 Q1081.00,720.60 1083.83,717.77 L1097.67,703.93 Q1100.50,701.10 1104.50,701.10 Z" fill="none" stroke="#000" stroke-width="2.3"/>
<circle cx="1121.00" cy="741.1" r="33.7" fill="none" stroke="#000" stroke-width="2.5"/>
<circle cx="1121.00" cy="741.1" r="11.3" fill="none" stroke="#000" stroke-width="2.3"/>
<rect x="1223.02" y="609.5" width="118.2" height="190.0" fill="#fff" stroke="#000" stroke-width="5.8"/>
<circle cx="1282.12" cy="654.2" r="21.1" fill="none" stroke="#000" stroke-width="2.4"/>
<circle cx="1282.12" cy="654.2" r="10.6" fill="none" stroke="#000" stroke-width="2.4"/>
<path d="M1266.12,701.10 L1299.12,701.10 Q1303.12,701.10 1305.95,703.93 L1319.79,717.77 Q1322.62,720.60 1322.62,724.60 L1322.62,757.60 Q1322.62,761.60 1319.79,764.43 L1305.95,778.27 Q1303.12,781.10 1299.12,781.10 L1266.12,781.10 Q1262.12,781.10 1259.29,778.27 L1245.45,764.43 Q1242.62,761.60 1242.62,757.60 L1242.62,724.60 Q1242.62,720.60 1245.45,717.77 L1259.29,703.93 Q1262.12,701.10 1266.12,701.10 Z" fill="none" stroke="#000" stroke-width="2.3"/>
<circle cx="1282.62" cy="741.1" r="33.7" fill="none" stroke="#000" stroke-width="2.5"/>
<circle cx="1282.62" cy="741.1" r="11.3" fill="none" stroke="#000" stroke-width="2.3"/>
<rect x="1384.64" y="609.5" width="118.2" height="190.0" fill="#82cfd0" stroke="#000" stroke-width="5.8"/>
<circle cx="1443.74" cy="654.2" r="21.1" fill="none" stroke="#000" stroke-width="2.4"/>
<circle cx="1443.74" cy="654.2" r="10.6" fill="none" stroke="#000" stroke-width="2.4"/>
<path d="M1427.74,701.10 L1460.74,701.10 Q1464.74,701.10 1467.57,703.93 L1481.41,717.77 Q1484.24,720.60 1484.24,724.60 L1484.24,757.60 Q1484.24,761.60 1481.41,764.43 L1467.57,778.27 Q1464.74,781.10 1460.74,781.10 L1427.74,781.10 Q1423.74,781.10 1420.91,778.27 L1407.07,764.43 Q1404.24,761.60 1404.24,757.60 L1404.24,724.60 Q1404.24,720.60 1407.07,717.77 L1420.91,703.93 Q1423.74,701.10 1427.74,701.10 Z" fill="none" stroke="#000" stroke-width="2.3"/>
<circle cx="1444.24" cy="741.1" r="33.7" fill="none" stroke="#000" stroke-width="2.5"/>
<circle cx="1444.24" cy="741.1" r="11.3" fill="none" stroke="#000" stroke-width="2.3"/>
<rect x="1546.26" y="609.5" width="118.2" height="190.0" fill="#82cfd0" stroke="#000" stroke-width="5.8"/>
<circle cx="1605.36" cy="654.2" r="21.1" fill="none" stroke="#000" stroke-width="2.4"/>
<circle cx="1605.36" cy="654.2" r="10.6" fill="none" stroke="#000" stroke-width="2.4"/>
<path d="M1589.36,701.10 L1622.36,701.10 Q1626.36,701.10 1629.19,703.93 L1643.03,717.77 Q1645.86,720.60 1645.86,724.60 L1645.86,757.60 Q1645.86,761.60 1643.03,764.43 L1629.19,778.27 Q1626.36,781.10 1622.36,781.10 L1589.36,781.10 Q1585.36,781.10 1582.53,778.27 L1568.69,764.43 Q1565.86,761.60 1565.86,757.60 L1565.86,724.60 Q1565.86,720.60 1568.69,717.77 L1582.53,703.93 Q1585.36,701.10 1589.36,701.10 Z" fill="none" stroke="#000" stroke-width="2.3"/>
<circle cx="1605.86" cy="741.1" r="33.7" fill="none" stroke="#000" stroke-width="2.5"/>
<circle cx="1605.86" cy="741.1" r="11.3" fill="none" stroke="#000" stroke-width="2.3"/>
<path d="M74.5,613.4 H189.8 L222,657 H41.9 Z" fill="#fff" stroke="#000" stroke-width="4.6" stroke-linejoin="miter"/>
<rect x="40.7" y="659.3" width="183" height="141.1" fill="#fff" stroke="#000" stroke-width="4.6"/>
<line x1="53.2" y1="648" x2="211.2" y2="648" stroke="#000" stroke-width="1.6"/>
<rect x="38.4" y="655.2" width="187.6" height="4.8" fill="#000"/>
<line x1="43" y1="663.2" x2="221" y2="663.2" stroke="#000" stroke-width="1.5"/>
<line x1="44.7" y1="663" x2="44.7" y2="781" stroke="#000" stroke-width="1.5"/>
<line x1="219.3" y1="663" x2="219.3" y2="781" stroke="#000" stroke-width="1.5"/>
<rect x="38.4" y="781.2" width="187.6" height="3.8" fill="#000"/>
<line x1="43" y1="787.6" x2="221" y2="787.6" stroke="#000" stroke-width="1.4"/>
<path d="M57.4,787.6 L60,792 H77 L79.5,787.6" fill="none" stroke="#000" stroke-width="1.3"/>
<path d="M183.8,787.6 L186.4,792 H203.4 L205.9,787.6" fill="none" stroke="#000" stroke-width="1.3"/>
<text x="85.50" y="884.90" font-size="56.15" font-weight="bold" fill="#000" textLength="91.04" lengthAdjust="spacingAndGlyphs"  stroke="#000" stroke-width="1.2" stroke-linejoin="miter">SW</text>
<text x="279.03" y="884.90" font-size="56.15" font-weight="bold" fill="#000" textLength="66.52" lengthAdjust="spacingAndGlyphs"  stroke="#000" stroke-width="1.2" stroke-linejoin="miter">FR</text>
<text x="443.90" y="884.90" font-size="56.15" font-weight="bold" fill="#000" textLength="61.60" lengthAdjust="spacingAndGlyphs"  stroke="#000" stroke-width="1.2" stroke-linejoin="miter">FL</text>
<text x="616.37" y="884.90" font-size="56.15" font-weight="bold" fill="#000" textLength="38.37" lengthAdjust="spacingAndGlyphs"  stroke="#000" stroke-width="1.2" stroke-linejoin="miter">C</text>
<text x="760.50" y="884.90" font-size="56.15" font-weight="bold" fill="#000" textLength="73.95" lengthAdjust="spacingAndGlyphs"  stroke="#000" stroke-width="1.2" stroke-linejoin="miter">SR</text>
<text x="925.59" y="884.90" font-size="56.15" font-weight="bold" fill="#000" textLength="68.54" lengthAdjust="spacingAndGlyphs"  stroke="#000" stroke-width="1.2" stroke-linejoin="miter">SL</text>
<text x="1065.62" y="884.90" font-size="56.15" font-weight="bold" fill="#000" textLength="111.10" lengthAdjust="spacingAndGlyphs"  stroke="#000" stroke-width="1.2" stroke-linejoin="miter">SBR</text>
<text x="1230.00" y="884.90" font-size="56.15" font-weight="bold" fill="#000" textLength="106.39" lengthAdjust="spacingAndGlyphs"  stroke="#000" stroke-width="1.2" stroke-linejoin="miter">SBL</text>
<rect x="1378.55" y="824.65" width="133.70" height="76.5" fill="#82cfd0" stroke="#000" stroke-width="6.5"/>
<text x="1392.07" y="883.40" font-size="56.87" font-weight="bold" fill="#000" textLength="107.63" lengthAdjust="spacingAndGlyphs"  stroke="#000" stroke-width="1.2" stroke-linejoin="miter">FHR</text>
<rect x="1538.45" y="824.65" width="133.60" height="76.5" fill="#82cfd0" stroke="#000" stroke-width="6.5"/>
<text x="1554.93" y="883.40" font-size="56.87" font-weight="bold" fill="#000" textLength="102.94" lengthAdjust="spacingAndGlyphs"  stroke="#000" stroke-width="1.2" stroke-linejoin="miter">FHL</text>
<rect x="1346.9" y="918.1" width="350.0" height="77.6" fill="#fff" stroke="#000" stroke-width="3.6"/>
<text x="1372.68" y="978.40" font-size="56.29" font-weight="bold" fill="#000" textLength="208.19" lengthAdjust="spacingAndGlyphs"  stroke="#000" stroke-width="1.2" stroke-linejoin="miter">HEIGHT</text>
<path d="M1602.1,945.3 L1613.0,939.9 H1620.1 V979 H1611 V949.4 L1602.1,953.8 Z" fill="#000"/>
<path transform="translate(1645.6,949) rotate(0)" d="M0,0 L-0.9,-5.5 Q-2.8,-8.6 -2.7,-10.7 A2.7,2.7 0 0 1 2.7,-10.7 Q2.8,-8.6 0.9,-5.5 Z" fill="#000"/>
<path transform="translate(1645.6,949) rotate(60)" d="M0,0 L-0.9,-5.5 Q-2.8,-8.6 -2.7,-10.7 A2.7,2.7 0 0 1 2.7,-10.7 Q2.8,-8.6 0.9,-5.5 Z" fill="#000"/>
<path transform="translate(1645.6,949) rotate(120)" d="M0,0 L-0.9,-5.5 Q-2.8,-8.6 -2.7,-10.7 A2.7,2.7 0 0 1 2.7,-10.7 Q2.8,-8.6 0.9,-5.5 Z" fill="#000"/>
<path transform="translate(1645.6,949) rotate(180)" d="M0,0 L-0.9,-5.5 Q-2.8,-8.6 -2.7,-10.7 A2.7,2.7 0 0 1 2.7,-10.7 Q2.8,-8.6 0.9,-5.5 Z" fill="#000"/>
<path transform="translate(1645.6,949) rotate(240)" d="M0,0 L-0.9,-5.5 Q-2.8,-8.6 -2.7,-10.7 A2.7,2.7 0 0 1 2.7,-10.7 Q2.8,-8.6 0.9,-5.5 Z" fill="#000"/>
<path transform="translate(1645.6,949) rotate(300)" d="M0,0 L-0.9,-5.5 Q-2.8,-8.6 -2.7,-10.7 A2.7,2.7 0 0 1 2.7,-10.7 Q2.8,-8.6 0.9,-5.5 Z" fill="#000"/>
</g></svg></body></html>
